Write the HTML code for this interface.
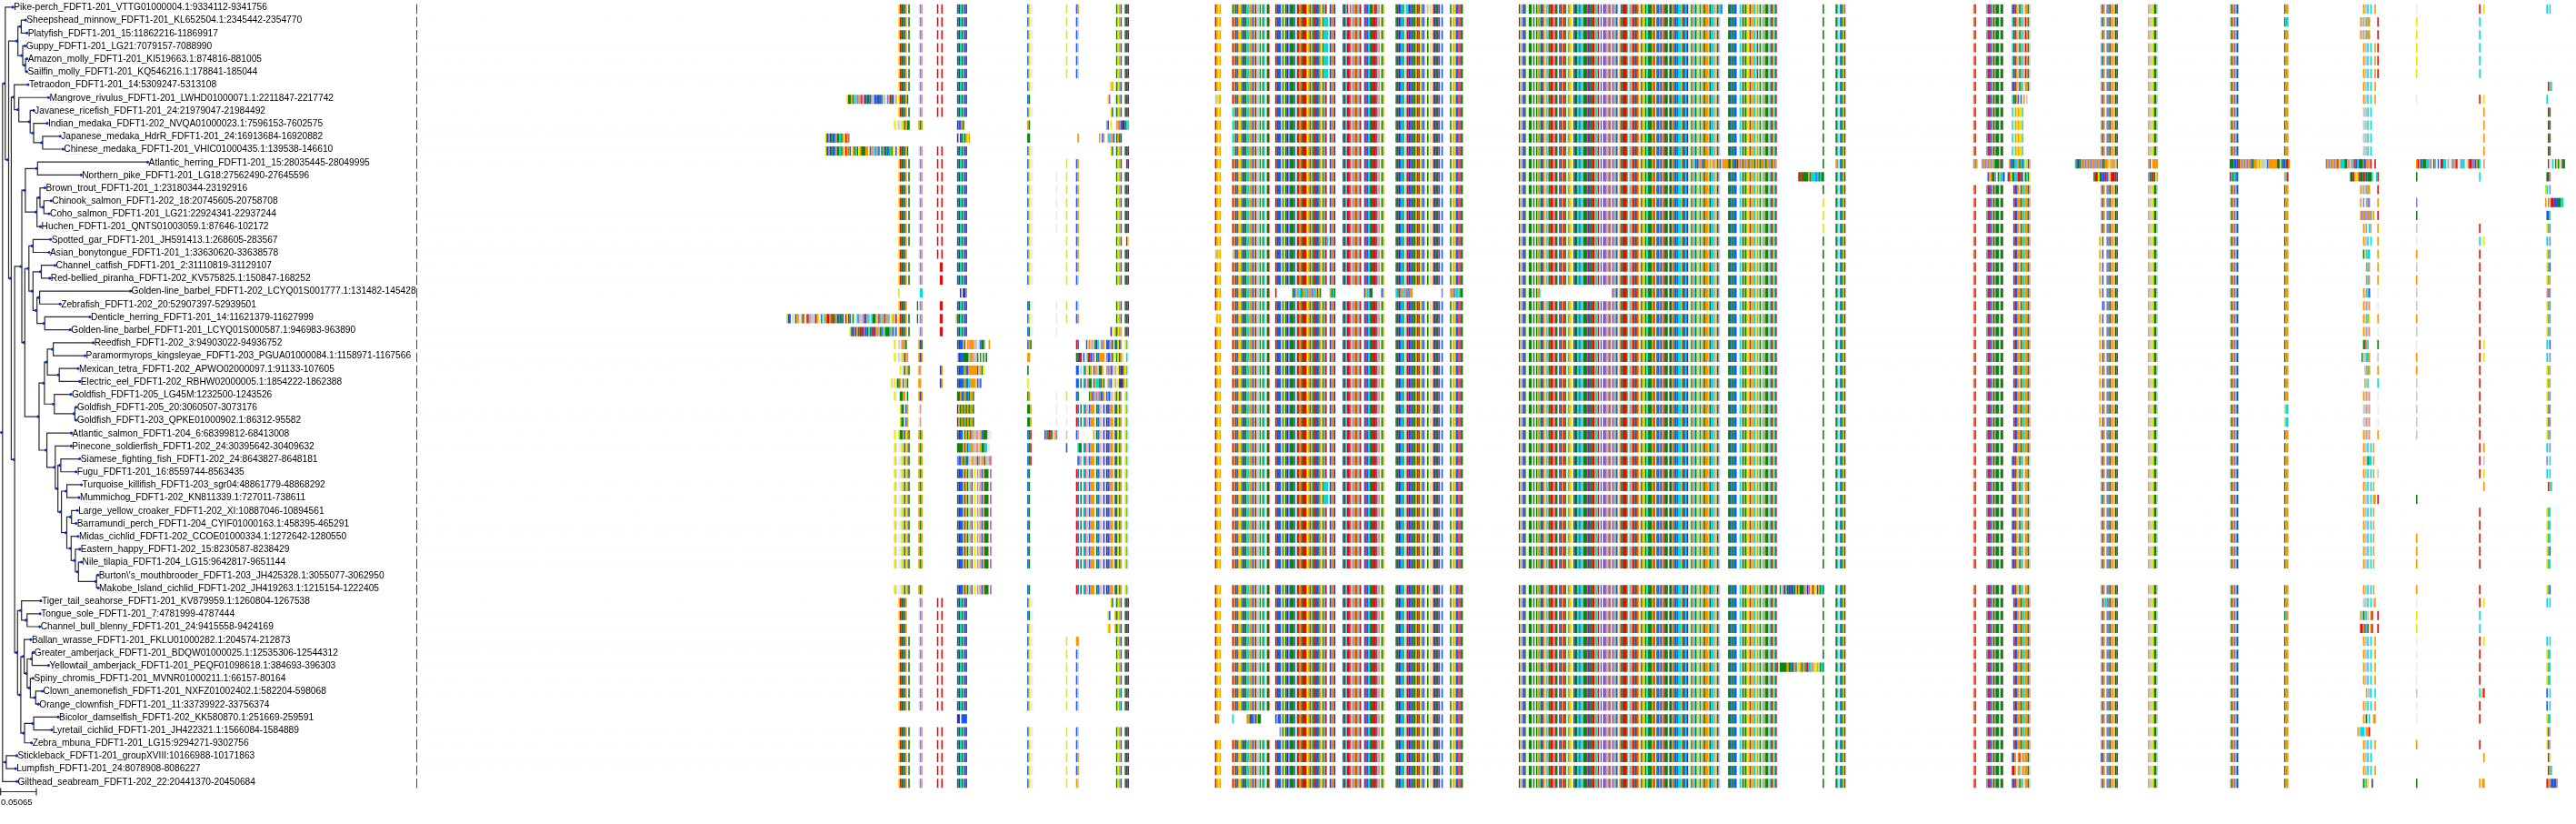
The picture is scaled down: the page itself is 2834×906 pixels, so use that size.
<!DOCTYPE html>
<html><head><meta charset="utf-8"><title>tree</title>
<style>html,body{margin:0;padding:0;background:#fff}body{width:2834px;height:906px;overflow:hidden}svg{display:block}text{font-family:"Liberation Sans",sans-serif;fill:#000}defs path{fill:none;stroke-width:10.15}.Y{stroke:#E6E600}.R{stroke:#E60A0A}.G{stroke:#0F820F}.B{stroke:#145AFF}.O{stroke:#FA9600}.C{stroke:#00DCDC}.N{stroke:#3232AA}.L{stroke:#8282D2}.S{stroke:#DC9682}.A{stroke:#C8C8C8}.W{stroke:#EBEBEB}.P{stroke:#B45AB4}.t{stroke:#2b2b2b;stroke-width:1.2;fill:none;stroke-linecap:butt}.d{fill:#0030c1}.ds{stroke:#4a4a4a;stroke-width:1.05}.fg{stroke:#e2e2e2;stroke-width:.8}.gp{stroke:#fafafa;stroke-width:.9;stroke-dasharray:1.1 1.6}</style></head><body>
<svg style="will-change:transform" width="2834" height="906" viewBox="0 0 2834 906">
<rect width="2834" height="906" fill="#fff"/>
<defs><g id="s0"><path class="Y" d="M988.21 0h1.58"/><path class="R" d="M989.79 0h1.58M1030.78 0h1.58M1035.51 0h1.58"/><path class="G" d="M991.36 0h3.15M999.25 0h1.58"/><path class="B" d="M994.52 0h1.58"/><path class="O" d="M996.09 0h1.58"/><path class="W" d="M1010.28 0h1.58"/><path class="L" d="M1011.86 0h1.58"/><path class="S" d="M1013.44 0h1.58"/></g><g id="s1"><path class="G" d="M1052.85 0h1.58M1057.58 0h1.58"/><path class="N" d="M1054.43 0h1.58M1062.31 0h1.58"/><path class="C" d="M1056.01 0h1.58"/><path class="L" d="M1059.16 0h1.58"/><path class="B" d="M1060.74 0h1.58"/></g><g id="s2"><path class="B" d="M1130.11 0h1.58"/><path class="Y" d="M1131.69 0h1.58M1172.68 0h1.58"/><path class="W" d="M1133.27 0h3.15"/></g><g id="s3"><path class="B" d="M1183.72 0h1.58M1232.6 0h1.58"/><path class="O" d="M1185.3 0h1.58"/><path class="G" d="M1227.87 0h1.58M1237.33 0h1.58"/><path class="Y" d="M1229.45 0h1.58"/><path class="S" d="M1231.02 0h1.58"/><path class="R" d="M1238.91 0h1.58"/></g><g id="s4"><path class="N" d="M1240.48 0h1.58"/></g><g id="s5"><path class="R" d="M1336.66 0h1.58"/><path class="O" d="M1338.24 0h1.58M1341.39 0h1.58M1357.16 0h1.58M1361.89 0h1.58"/><path class="Y" d="M1339.81 0h1.58M1363.46 0h1.58"/><path class="G" d="M1355.58 0h1.58M1358.73 0h1.58"/><path class="B" d="M1360.31 0h1.58"/><path class="L" d="M1365.04 0h1.58"/></g><g id="s6"><path class="G" d="M1366.62 0h1.58M1369.77 0h1.58M1385.54 0h1.58M1388.69 0h1.58M1393.42 0h1.58M1404.46 0h1.58M1410.77 0h1.58M1413.92 0h1.58M1418.65 0h4.73M1426.53 0h1.58"/><path class="N" d="M1368.19 0h1.58M1380.81 0h1.58M1415.5 0h1.58"/><path class="C" d="M1371.35 0h3.15M1390.27 0h1.58"/><path class="O" d="M1374.5 0h3.15M1379.23 0h1.58"/><path class="B" d="M1377.65 0h1.58M1406.04 0h3.15M1423.38 0h1.58"/><path class="A" d="M1382.38 0h3.15M1409.19 0h1.58"/><path class="W" d="M1391.85 0h1.58M1424.96 0h1.58"/><path class="R" d="M1395 0h1.58M1402.88 0h1.58M1428.11 0h1.58"/><path class="Y" d="M1412.34 0h1.58"/><path class="L" d="M1417.07 0h1.58"/></g><g id="s7"><path class="O" d="M1429.69 0h1.58M1439.15 0h1.58M1465.95 0h1.58M1489.6 0h1.58"/><path class="G" d="M1431.26 0h1.58M1440.72 0h1.58M1443.88 0h1.58M1450.18 0h1.58M1454.91 0h1.58M1476.99 0h1.58"/><path class="R" d="M1432.84 0h4.73M1445.45 0h1.58M1458.07 0h1.58M1481.72 0h1.58M1491.18 0h1.58"/><path class="Y" d="M1437.57 0h1.58M1453.34 0h1.58M1486.45 0h1.58"/><path class="S" d="M1442.3 0h1.58M1451.76 0h1.58"/><path class="B" d="M1447.03 0h3.15"/><path class="C" d="M1456.49 0h1.58M1480.14 0h1.58"/><path class="N" d="M1462.8 0h1.58M1467.53 0h1.58M1478.56 0h1.58"/><path class="L" d="M1464.37 0h1.58M1488.02 0h1.58"/><path class="W" d="M1483.29 0h1.58"/><path class="P" d="M1484.87 0h1.58"/></g><g id="s8"><path class="O" d="M1492.75 0h1.58M1510.1 0h1.58M1516.4 0h1.58M1521.13 0h1.58"/><path class="C" d="M1494.33 0h1.58M1505.37 0h1.58M1541.63 0h1.58M1546.36 0h3.15"/><path class="R" d="M1495.91 0h1.58M1502.21 0h1.58M1511.67 0h1.58M1536.9 0h1.58M1552.67 0h1.58"/><path class="B" d="M1500.64 0h1.58M1503.79 0h1.58M1540.06 0h1.58M1551.09 0h1.58"/><path class="G" d="M1506.94 0h3.15M1519.56 0h1.58M1535.32 0h1.58M1543.21 0h1.58M1554.25 0h1.58"/><path class="N" d="M1513.25 0h1.58M1538.48 0h1.58M1549.52 0h1.58"/><path class="S" d="M1514.83 0h1.58"/><path class="W" d="M1544.79 0h1.58"/></g><g id="s9"><path class="G" d="M1555.82 0h1.58M1560.55 0h1.58M1579.47 0h1.58M1595.24 0h1.58M1607.85 0h1.58"/><path class="O" d="M1557.4 0h1.58M1598.39 0h1.58"/><path class="R" d="M1558.98 0h1.58M1576.32 0h1.58M1581.05 0h1.58M1603.12 0h1.58M1606.28 0h1.58"/><path class="Y" d="M1562.13 0h1.58M1566.86 0h1.58M1573.17 0h1.58M1599.97 0h1.58"/><path class="L" d="M1563.71 0h1.58"/><path class="B" d="M1565.28 0h1.58M1582.63 0h1.58M1585.78 0h1.58M1601.55 0h1.58"/><path class="W" d="M1568.44 0h1.58M1571.59 0h1.58M1574.74 0h1.58"/><path class="A" d="M1570.01 0h1.58"/><path class="N" d="M1577.9 0h1.58"/><path class="P" d="M1604.7 0h1.58"/></g><g id="s10"><path class="N" d="M1670.92 0h1.58M1675.65 0h1.58"/><path class="Y" d="M1672.5 0h1.58"/><path class="L" d="M1674.07 0h1.58"/><path class="G" d="M1677.23 0h1.58"/><path class="W" d="M1678.8 0h3.15"/></g><g id="s11"><path class="G" d="M1681.96 0h3.15M1686.69 0h1.58M1689.84 0h1.58M1694.57 0h1.58M1704.03 0h1.58M1711.92 0h1.58M1721.38 0h1.58M1730.84 0h1.58M1733.99 0h1.58M1741.87 0h3.15"/><path class="O" d="M1691.42 0h1.58M1697.72 0h1.58M1700.88 0h1.58M1718.22 0h1.58M1726.11 0h1.58M1738.72 0h1.58"/><path class="C" d="M1692.99 0h1.58M1702.46 0h1.58M1724.53 0h1.58M1735.57 0h1.58M1740.3 0h1.58"/><path class="N" d="M1696.15 0h1.58M1732.41 0h1.58"/><path class="A" d="M1699.3 0h1.58"/><path class="R" d="M1705.61 0h3.15M1710.34 0h1.58M1716.65 0h1.58M1719.8 0h1.58"/><path class="S" d="M1708.76 0h1.58"/><path class="B" d="M1715.07 0h1.58M1737.14 0h1.58"/><path class="W" d="M1722.95 0h1.58"/><path class="Y" d="M1727.68 0h1.58"/></g><g id="s12"><path class="B" d="M1745.03 0h1.58M1760.79 0h1.58M1782.87 0h1.58M1797.06 0h1.58"/><path class="R" d="M1746.6 0h1.58M1751.33 0h3.15M1757.64 0h1.58M1770.25 0h1.58M1786.02 0h3.15M1795.48 0h1.58M1800.21 0h1.58"/><path class="N" d="M1748.18 0h1.58M1763.95 0h1.58M1778.14 0h1.58"/><path class="G" d="M1749.76 0h1.58M1784.44 0h1.58M1789.17 0h1.58M1798.63 0h1.58M1804.94 0h1.58"/><path class="O" d="M1754.49 0h1.58M1774.98 0h1.58M1801.79 0h1.58M1806.52 0h1.58"/><path class="C" d="M1756.06 0h1.58M1768.68 0h1.58M1776.56 0h1.58M1792.33 0h1.58"/><path class="W" d="M1762.37 0h1.58M1771.83 0h1.58M1779.71 0h1.58M1790.75 0h1.58M1803.36 0h1.58"/><path class="P" d="M1765.52 0h1.58M1773.41 0h1.58"/><path class="S" d="M1767.1 0h1.58M1793.9 0h1.58"/></g><g id="s13"><path class="Y" d="M1808.09 0h1.58M1856.97 0h1.58M1866.43 0h1.58"/><path class="G" d="M1809.67 0h1.58M1812.82 0h4.73M1822.28 0h1.58M1827.01 0h1.58M1831.74 0h3.15M1838.05 0h1.58M1842.78 0h1.58M1850.66 0h1.58M1860.13 0h1.58M1864.86 0h1.58M1869.59 0h1.58"/><path class="C" d="M1811.25 0h1.58M1845.93 0h3.15M1853.82 0h1.58M1863.28 0h1.58"/><path class="O" d="M1817.55 0h1.58M1839.63 0h1.58M1849.09 0h1.58"/><path class="R" d="M1819.13 0h1.58M1830.17 0h1.58"/><path class="B" d="M1823.86 0h1.58M1841.2 0h1.58M1844.36 0h1.58"/><path class="L" d="M1825.44 0h1.58"/><path class="S" d="M1828.59 0h1.58M1861.7 0h1.58"/><path class="W" d="M1834.9 0h1.58M1858.55 0h1.58"/><path class="N" d="M1836.47 0h1.58M1852.24 0h1.58M1855.39 0h1.58"/><path class="A" d="M1868.01 0h1.58"/></g><g id="s14"><path class="A" d="M1871.16 0h1.58M1915.31 0h1.58M1926.35 0h1.58"/><path class="O" d="M1872.74 0h1.58M1875.89 0h3.15M1918.46 0h1.58M1927.92 0h1.58M1932.65 0h1.58"/><path class="G" d="M1874.32 0h1.58M1888.51 0h1.58M1901.12 0h3.15M1905.85 0h1.58M1916.89 0h1.58M1920.04 0h1.58"/><path class="Y" d="M1879.05 0h1.58M1886.93 0h1.58M1921.62 0h3.15M1931.08 0h1.58"/><path class="N" d="M1880.62 0h1.58"/><path class="C" d="M1882.2 0h3.15M1891.66 0h1.58M1913.73 0h1.58M1929.5 0h1.58"/><path class="S" d="M1885.35 0h1.58"/><path class="L" d="M1890.08 0h1.58"/><path class="B" d="M1893.24 0h1.58M1904.27 0h1.58M1907.43 0h3.15"/><path class="R" d="M1924.77 0h1.58"/></g><g id="s15"><path class="A" d="M1934.23 0h1.58M1945.27 0h1.58"/><path class="G" d="M1935.81 0h1.58M1942.11 0h3.15"/><path class="C" d="M1938.96 0h1.58M1946.84 0h1.58M1951.57 0h1.58"/><path class="O" d="M1940.54 0h1.58M1950 0h1.58"/><path class="N" d="M1948.42 0h1.58"/><path class="R" d="M1953.15 0h1.58"/></g><g id="s16"><path class="G" d="M2005.18 0h1.58M2019.37 0h1.58M2025.68 0h1.58"/><path class="C" d="M2020.95 0h1.58"/><path class="B" d="M2024.1 0h1.58"/><path class="O" d="M2027.26 0h1.58"/><path class="L" d="M2028.83 0h1.58"/></g><g id="s17"><path class="O" d="M2170.74 0h1.58M2184.93 0h1.58"/><path class="R" d="M2172.31 0h1.58"/><path class="W" d="M2173.89 0h1.58"/></g><g id="s18"><path class="B" d="M2186.5 0h1.58M2189.66 0h1.58M2213.31 0h1.58M2216.46 0h1.58"/><path class="R" d="M2188.08 0h1.58M2214.88 0h1.58"/><path class="O" d="M2191.23 0h1.58M2218.04 0h1.58M2222.77 0h1.58M2227.5 0h3.15"/><path class="G" d="M2192.81 0h1.58M2195.96 0h3.15M2200.69 0h3.15M2221.19 0h1.58M2230.65 0h1.58"/><path class="L" d="M2194.39 0h1.58"/><path class="A" d="M2199.12 0h1.58M2219.61 0h1.58M2232.23 0h1.58"/><path class="C" d="M2224.34 0h1.58"/></g><g id="s19"><path class="O" d="M2311.06 0h1.58"/></g><g id="s20"><path class="B" d="M2312.64 0h1.58"/><path class="O" d="M2314.21 0h1.58M2323.67 0h1.58M2363.09 0h1.58"/><path class="L" d="M2317.37 0h3.15"/><path class="G" d="M2320.52 0h1.58M2328.4 0h1.58M2369.4 0h3.15"/><path class="S" d="M2322.1 0h1.58"/><path class="Y" d="M2325.25 0h1.58M2367.82 0h1.58"/><path class="N" d="M2326.83 0h1.58"/><path class="A" d="M2364.67 0h3.15M2372.55 0h1.58"/></g><g id="s21"><path class="A" d="M2452.96 0h1.58"/><path class="G" d="M2454.54 0h1.58"/><path class="O" d="M2456.12 0h1.58"/><path class="P" d="M2457.69 0h1.58"/><path class="C" d="M2459.27 0h1.58"/><path class="N" d="M2460.85 0h1.58"/></g><g id="s22"><path class="G" d="M2512.88 0h1.58"/><path class="O" d="M2514.46 0h3.15"/></g><g id="s23"><path class="O" d="M2599.6 0h1.58M2612.21 0h1.58"/><path class="A" d="M2601.17 0h3.15"/><path class="C" d="M2604.33 0h1.58M2607.48 0h1.58"/><path class="W" d="M2605.9 0h1.58M2609.06 0h1.58"/></g><g id="s24"><path class="W" d="M2657.94 0h1.58"/></g><g id="s25"><path class="R" d="M2727.31 0h1.58"/><path class="Y" d="M2732.04 0h1.58"/></g><g id="s26"><path class="C" d="M2801.41 0h1.58M2804.57 0h1.58"/><path class="W" d="M2802.99 0h1.58"/></g><g id="s27"><path class="B" d="M1183.72 0h1.58M1232.6 0h1.58"/><path class="A" d="M1185.3 0h1.58"/><path class="G" d="M1227.87 0h1.58M1237.33 0h1.58"/><path class="Y" d="M1229.45 0h1.58"/><path class="S" d="M1231.02 0h1.58"/><path class="R" d="M1238.91 0h1.58"/></g><g id="s28"><path class="R" d="M1336.66 0h1.58M1355.58 0h1.58"/><path class="O" d="M1338.24 0h1.58M1341.39 0h1.58M1357.16 0h1.58M1361.89 0h1.58"/><path class="Y" d="M1339.81 0h1.58M1363.46 0h1.58"/><path class="G" d="M1358.73 0h1.58"/><path class="B" d="M1360.31 0h1.58"/><path class="L" d="M1365.04 0h1.58"/></g><g id="s29"><path class="O" d="M1429.69 0h1.58M1439.15 0h1.58M1465.95 0h1.58M1489.6 0h1.58"/><path class="G" d="M1431.26 0h1.58M1440.72 0h1.58M1443.88 0h1.58M1450.18 0h1.58M1454.91 0h1.58M1476.99 0h1.58"/><path class="R" d="M1432.84 0h4.73M1445.45 0h1.58M1481.72 0h3.15M1491.18 0h1.58"/><path class="Y" d="M1437.57 0h1.58M1453.34 0h1.58M1486.45 0h1.58"/><path class="S" d="M1442.3 0h1.58M1451.76 0h1.58"/><path class="B" d="M1447.03 0h3.15"/><path class="C" d="M1456.49 0h4.73M1480.14 0h1.58"/><path class="N" d="M1462.8 0h1.58M1467.53 0h1.58M1478.56 0h1.58"/><path class="L" d="M1464.37 0h1.58M1488.02 0h1.58"/><path class="P" d="M1484.87 0h1.58"/></g><g id="s30"><path class="O" d="M1492.75 0h1.58M1516.4 0h1.58M1521.13 0h1.58"/><path class="C" d="M1494.33 0h1.58M1505.37 0h1.58M1541.63 0h1.58M1546.36 0h1.58"/><path class="R" d="M1495.91 0h1.58M1502.21 0h1.58M1510.1 0h3.15M1536.9 0h1.58M1547.94 0h1.58M1552.67 0h1.58"/><path class="B" d="M1500.64 0h1.58M1503.79 0h1.58M1540.06 0h1.58M1551.09 0h1.58"/><path class="G" d="M1506.94 0h3.15M1519.56 0h1.58M1535.32 0h1.58M1543.21 0h1.58M1554.25 0h1.58"/><path class="N" d="M1513.25 0h1.58M1538.48 0h1.58M1549.52 0h1.58"/><path class="S" d="M1514.83 0h1.58"/><path class="W" d="M1544.79 0h1.58"/></g><g id="s31"><path class="G" d="M1555.82 0h1.58M1560.55 0h1.58M1570.01 0h1.58M1579.47 0h1.58M1595.24 0h1.58M1607.85 0h1.58"/><path class="O" d="M1557.4 0h1.58M1598.39 0h1.58"/><path class="R" d="M1558.98 0h1.58M1576.32 0h1.58M1581.05 0h1.58M1603.12 0h1.58M1606.28 0h1.58"/><path class="Y" d="M1562.13 0h1.58M1566.86 0h1.58M1573.17 0h1.58M1599.97 0h1.58"/><path class="L" d="M1563.71 0h1.58"/><path class="B" d="M1565.28 0h1.58M1582.63 0h1.58M1585.78 0h1.58M1601.55 0h1.58"/><path class="W" d="M1574.74 0h1.58"/><path class="N" d="M1577.9 0h1.58"/><path class="P" d="M1604.7 0h1.58"/></g><g id="s32"><path class="B" d="M1745.03 0h1.58M1760.79 0h1.58M1782.87 0h1.58M1797.06 0h1.58"/><path class="R" d="M1746.6 0h1.58M1751.33 0h3.15M1757.64 0h1.58M1770.25 0h1.58M1786.02 0h3.15M1795.48 0h1.58M1800.21 0h1.58"/><path class="N" d="M1748.18 0h1.58M1763.95 0h1.58M1778.14 0h1.58"/><path class="G" d="M1749.76 0h1.58M1784.44 0h1.58M1789.17 0h1.58M1798.63 0h1.58M1804.94 0h1.58"/><path class="O" d="M1754.49 0h1.58M1774.98 0h1.58M1781.29 0h1.58M1801.79 0h1.58M1806.52 0h1.58"/><path class="C" d="M1756.06 0h1.58M1768.68 0h1.58M1776.56 0h1.58M1792.33 0h1.58"/><path class="W" d="M1762.37 0h1.58M1771.83 0h1.58M1779.71 0h1.58M1790.75 0h1.58M1803.36 0h1.58"/><path class="P" d="M1765.52 0h1.58M1773.41 0h1.58"/><path class="S" d="M1767.1 0h1.58M1793.9 0h1.58"/></g><g id="s33"><path class="A" d="M1871.16 0h1.58M1915.31 0h1.58M1926.35 0h1.58"/><path class="O" d="M1872.74 0h1.58M1875.89 0h3.15M1918.46 0h1.58M1927.92 0h1.58M1932.65 0h1.58"/><path class="G" d="M1874.32 0h1.58M1888.51 0h1.58M1901.12 0h3.15M1905.85 0h1.58M1916.89 0h1.58M1920.04 0h1.58"/><path class="Y" d="M1879.05 0h1.58M1886.93 0h1.58M1921.62 0h3.15M1931.08 0h1.58"/><path class="N" d="M1880.62 0h1.58"/><path class="C" d="M1882.2 0h3.15M1913.73 0h1.58M1929.5 0h1.58"/><path class="S" d="M1885.35 0h1.58"/><path class="L" d="M1890.08 0h1.58"/><path class="W" d="M1891.66 0h1.58"/><path class="B" d="M1904.27 0h1.58M1907.43 0h3.15"/><path class="R" d="M1924.77 0h1.58"/></g><g id="s34"><path class="G" d="M2005.18 0h1.58M2019.37 0h1.58M2025.68 0h1.58M2028.83 0h1.58"/><path class="C" d="M2020.95 0h1.58"/><path class="B" d="M2024.1 0h1.58"/><path class="O" d="M2027.26 0h1.58"/></g><g id="s35"><path class="B" d="M2186.5 0h1.58M2189.66 0h1.58M2216.46 0h1.58"/><path class="R" d="M2188.08 0h1.58M2214.88 0h1.58M2227.5 0h1.58"/><path class="O" d="M2191.23 0h1.58M2218.04 0h1.58M2222.77 0h1.58M2229.07 0h1.58"/><path class="G" d="M2192.81 0h1.58M2195.96 0h3.15M2200.69 0h3.15M2221.19 0h1.58M2230.65 0h1.58"/><path class="L" d="M2194.39 0h1.58"/><path class="A" d="M2199.12 0h1.58M2219.61 0h1.58M2225.92 0h1.58M2232.23 0h1.58"/><path class="C" d="M2213.31 0h1.58M2224.34 0h1.58"/></g><g id="s36"><path class="C" d="M2311.06 0h1.58"/></g><g id="s37"><path class="G" d="M2512.88 0h1.58"/><path class="C" d="M2514.46 0h3.15"/></g><g id="s38"><path class="O" d="M2596.44 0h1.58M2604.33 0h3.15"/><path class="A" d="M2598.02 0h1.58M2601.17 0h1.58"/><path class="S" d="M2599.6 0h1.58"/><path class="C" d="M2602.75 0h1.58"/><path class="R" d="M2615.36 0h1.58"/></g><g id="s39"><path class="Y" d="M2657.94 0h1.58"/></g><g id="s40"><path class="C" d="M2727.31 0h1.58"/></g><g id="s41"><path class="A" d="M1871.16 0h1.58M1915.31 0h1.58M1926.35 0h1.58"/><path class="O" d="M1872.74 0h1.58M1875.89 0h3.15M1918.46 0h1.58M1927.92 0h1.58"/><path class="G" d="M1874.32 0h1.58M1888.51 0h1.58M1901.12 0h3.15M1905.85 0h1.58M1916.89 0h1.58M1920.04 0h1.58"/><path class="Y" d="M1879.05 0h1.58M1886.93 0h1.58M1921.62 0h3.15M1931.08 0h1.58"/><path class="N" d="M1880.62 0h1.58"/><path class="C" d="M1882.2 0h3.15M1913.73 0h1.58M1929.5 0h1.58"/><path class="S" d="M1885.35 0h1.58"/><path class="L" d="M1890.08 0h1.58"/><path class="W" d="M1891.66 0h1.58"/><path class="B" d="M1904.27 0h1.58M1907.43 0h3.15M1932.65 0h1.58"/><path class="R" d="M1924.77 0h1.58"/></g><g id="s42"><path class="Y" d="M2311.06 0h1.58"/></g><g id="s43"><path class="O" d="M2599.6 0h1.58M2612.21 0h1.58"/><path class="A" d="M2601.17 0h3.15"/><path class="C" d="M2604.33 0h1.58M2607.48 0h1.58"/><path class="W" d="M2605.9 0h1.58M2609.06 0h1.58"/><path class="R" d="M2615.36 0h1.58"/></g><g id="s44"><path class="B" d="M1130.11 0h1.58"/><path class="Y" d="M1131.69 0h1.58"/><path class="W" d="M1133.27 0h3.15"/></g><g id="s45"><path class="W" d="M1219.98 0h1.58M1226.29 0h1.58"/><path class="Y" d="M1221.56 0h1.58M1229.45 0h1.58"/><path class="O" d="M1223.14 0h1.58"/><path class="G" d="M1227.87 0h1.58M1237.33 0h1.58"/><path class="S" d="M1231.02 0h1.58"/><path class="B" d="M1232.6 0h1.58"/><path class="R" d="M1238.91 0h1.58"/></g><g id="s46"><path class="O" d="M1429.69 0h1.58M1439.15 0h1.58M1465.95 0h1.58M1489.6 0h1.58"/><path class="G" d="M1431.26 0h1.58M1440.72 0h1.58M1443.88 0h1.58M1450.18 0h1.58M1454.91 0h1.58M1476.99 0h1.58"/><path class="R" d="M1432.84 0h4.73M1445.45 0h1.58M1458.07 0h1.58M1481.72 0h3.15M1491.18 0h1.58"/><path class="Y" d="M1437.57 0h1.58M1453.34 0h1.58M1486.45 0h1.58"/><path class="S" d="M1442.3 0h1.58M1451.76 0h1.58"/><path class="B" d="M1447.03 0h3.15"/><path class="C" d="M1456.49 0h1.58M1480.14 0h1.58"/><path class="N" d="M1462.8 0h1.58M1467.53 0h1.58M1478.56 0h1.58"/><path class="L" d="M1464.37 0h1.58M1488.02 0h1.58"/><path class="P" d="M1484.87 0h1.58"/></g><g id="s47"><path class="R" d="M2802.99 0h1.58"/><path class="O" d="M2804.57 0h1.58"/><path class="C" d="M2806.15 0h1.58"/></g><g id="s48"><path class="Y" d="M931.45 0h1.58"/><path class="G" d="M933.03 0h3.15M937.76 0h1.58M953.52 0h3.15M964.56 0h1.58M969.29 0h1.58M980.33 0h1.58"/><path class="O" d="M936.18 0h1.58M985.06 0h1.58"/><path class="C" d="M939.33 0h1.58"/><path class="S" d="M940.91 0h1.58M944.06 0h3.15M958.25 0h1.58M977.17 0h1.58"/><path class="L" d="M942.49 0h1.58M975.6 0h1.58"/><path class="R" d="M947.22 0h1.58M950.37 0h1.58M978.75 0h1.58"/><path class="B" d="M951.95 0h1.58M956.68 0h1.58M961.41 0h3.15M967.71 0h1.58M981.9 0h1.58"/><path class="A" d="M959.83 0h1.58M970.87 0h3.15"/><path class="N" d="M966.14 0h1.58"/><path class="W" d="M974.02 0h1.58"/></g><g id="s49"><path class="Y" d="M988.21 0h1.58"/><path class="R" d="M989.79 0h1.58M1030.78 0h1.58M1035.51 0h1.58"/><path class="G" d="M991.36 0h3.15M997.67 0h1.58"/><path class="B" d="M994.52 0h1.58"/><path class="O" d="M996.09 0h1.58"/><path class="W" d="M1010.28 0h1.58"/><path class="L" d="M1011.86 0h1.58"/><path class="S" d="M1013.44 0h1.58"/></g><g id="s50"><path class="B" d="M1130.11 0h1.58"/><path class="G" d="M1131.69 0h1.58"/><path class="W" d="M1133.27 0h1.58"/></g><g id="s51"><path class="Y" d="M1218.41 0h1.58M1229.45 0h1.58"/><path class="P" d="M1219.98 0h1.58"/><path class="W" d="M1226.29 0h1.58"/><path class="G" d="M1227.87 0h1.58M1237.33 0h1.58"/><path class="S" d="M1231.02 0h1.58"/><path class="B" d="M1232.6 0h1.58"/><path class="R" d="M1238.91 0h1.58"/></g><g id="s52"><path class="A" d="M1336.66 0h3.15"/><path class="Y" d="M1339.81 0h1.58M1363.46 0h1.58"/><path class="O" d="M1341.39 0h1.58M1357.16 0h1.58M1361.89 0h1.58"/><path class="R" d="M1355.58 0h1.58"/><path class="G" d="M1358.73 0h1.58"/><path class="B" d="M1360.31 0h1.58"/><path class="L" d="M1365.04 0h1.58"/></g><g id="s53"><path class="B" d="M2186.5 0h1.58M2189.66 0h1.58M2219.61 0h1.58M2222.77 0h1.58"/><path class="R" d="M2188.08 0h1.58M2214.88 0h1.58"/><path class="O" d="M2191.23 0h1.58M2218.04 0h1.58M2225.92 0h1.58"/><path class="G" d="M2192.81 0h1.58M2195.96 0h3.15M2200.69 0h3.15M2216.46 0h1.58"/><path class="L" d="M2194.39 0h1.58"/><path class="A" d="M2199.12 0h1.58M2229.07 0h1.58"/><path class="C" d="M2213.31 0h1.58"/></g><g id="s54"><path class="C" d="M2801.41 0h1.58"/></g><g id="s55"><path class="Y" d="M1221.56 0h1.58M1229.45 0h1.58"/><path class="B" d="M1223.14 0h1.58M1232.6 0h1.58"/><path class="W" d="M1226.29 0h1.58"/><path class="G" d="M1227.87 0h1.58M1237.33 0h1.58"/><path class="S" d="M1231.02 0h1.58"/><path class="R" d="M1238.91 0h1.58"/></g><g id="s56"><path class="R" d="M1336.66 0h1.58"/><path class="O" d="M1338.24 0h1.58M1341.39 0h1.58M1357.16 0h1.58M1361.89 0h1.58"/><path class="Y" d="M1339.81 0h1.58M1363.46 0h1.58"/><path class="C" d="M1355.58 0h1.58"/><path class="G" d="M1358.73 0h1.58"/><path class="B" d="M1360.31 0h1.58"/><path class="L" d="M1365.04 0h1.58"/></g><g id="s57"><path class="B" d="M2186.5 0h1.58M2189.66 0h1.58"/><path class="R" d="M2188.08 0h1.58"/><path class="O" d="M2191.23 0h1.58M2216.46 0h1.58M2219.61 0h1.58"/><path class="G" d="M2192.81 0h1.58M2195.96 0h3.15M2200.69 0h3.15"/><path class="L" d="M2194.39 0h1.58"/><path class="A" d="M2199.12 0h1.58"/><path class="C" d="M2213.31 0h1.58M2224.34 0h1.58"/><path class="W" d="M2214.88 0h1.58"/><path class="Y" d="M2218.04 0h1.58M2221.19 0h3.15"/></g><g id="s58"><path class="A" d="M2599.6 0h4.73"/><path class="C" d="M2604.33 0h1.58M2607.48 0h1.58"/><path class="W" d="M2605.9 0h1.58"/></g><g id="s59"><path class="O" d="M2732.04 0h1.58"/></g><g id="s60"><path class="R" d="M2802.99 0h1.58"/><path class="G" d="M2804.57 0h1.58"/></g><g id="s61"><path class="Y" d="M983.48 0h1.58"/><path class="W" d="M985.06 0h3.15"/></g><g id="s62"><path class="A" d="M988.21 0h1.58"/><path class="W" d="M989.79 0h1.58"/><path class="Y" d="M991.36 0h3.15"/><path class="G" d="M994.52 0h1.58M997.67 0h3.15M1011.86 0h1.58"/><path class="O" d="M996.09 0h1.58M1010.28 0h1.58M1013.44 0h1.58"/></g><g id="s63"><path class="N" d="M1052.85 0h1.58"/><path class="B" d="M1054.43 0h3.15"/><path class="O" d="M1057.58 0h1.58"/><path class="G" d="M1059.16 0h1.58"/></g><g id="s64"><path class="O" d="M1130.11 0h1.58"/><path class="G" d="M1131.69 0h1.58"/></g><g id="s65"><path class="S" d="M1216.83 0h1.58M1227.87 0h1.58"/><path class="B" d="M1218.41 0h1.58M1232.6 0h1.58"/><path class="Y" d="M1221.56 0h1.58"/><path class="O" d="M1229.45 0h1.58"/><path class="L" d="M1231.02 0h1.58"/><path class="N" d="M1234.18 0h3.15"/><path class="G" d="M1237.33 0h1.58"/><path class="C" d="M1238.91 0h1.58"/></g><g id="s66"><path class="C" d="M1240.48 0h1.58"/></g><g id="s67"><path class="Y" d="M907.8 0h1.58"/><path class="N" d="M909.38 0h1.58M912.53 0h1.58"/><path class="L" d="M910.95 0h1.58"/><path class="G" d="M914.11 0h1.58M920.41 0h3.15"/><path class="B" d="M915.68 0h3.15"/><path class="O" d="M918.84 0h1.58"/><path class="C" d="M923.57 0h1.58"/></g><g id="s68"><path class="G" d="M925.14 0h1.58"/><path class="O" d="M926.72 0h1.58M931.45 0h1.58"/><path class="Y" d="M928.3 0h1.58"/><path class="R" d="M929.87 0h1.58"/><path class="L" d="M933.03 0h1.58"/></g><g id="s69"><path class="N" d="M1052.85 0h1.58M1056.01 0h1.58"/><path class="G" d="M1057.58 0h1.58M1060.74 0h1.58"/><path class="C" d="M1059.16 0h1.58"/><path class="O" d="M1062.31 0h1.58M1065.47 0h1.58"/><path class="Y" d="M1063.89 0h1.58"/></g><g id="s70"><path class="G" d="M1130.11 0h3.15"/></g><g id="s71"><path class="O" d="M1185.3 0h1.58M1208.95 0h1.58M1223.14 0h1.58M1229.45 0h1.58"/><path class="B" d="M1212.1 0h1.58M1224.72 0h1.58M1231.02 0h1.58"/><path class="S" d="M1213.68 0h1.58M1218.41 0h1.58M1221.56 0h1.58"/><path class="C" d="M1219.98 0h1.58"/><path class="G" d="M1227.87 0h1.58M1232.6 0h1.58"/></g><g id="s72"><path class="G" d="M925.14 0h1.58M934.6 0h1.58M939.33 0h1.58M942.49 0h1.58M947.22 0h4.73M969.29 0h1.58M974.02 0h1.58M977.17 0h1.58M980.33 0h1.58"/><path class="O" d="M926.72 0h1.58M931.45 0h1.58M937.76 0h1.58M945.64 0h1.58M951.95 0h3.15M964.56 0h1.58M970.87 0h1.58"/><path class="Y" d="M928.3 0h1.58M944.06 0h1.58M981.9 0h1.58"/><path class="R" d="M929.87 0h1.58"/><path class="L" d="M933.03 0h1.58M962.98 0h1.58"/><path class="C" d="M940.91 0h1.58M961.41 0h1.58M978.75 0h1.58"/><path class="B" d="M956.68 0h1.58M966.14 0h1.58M972.44 0h1.58M975.6 0h1.58M985.06 0h1.58"/><path class="S" d="M958.25 0h3.15"/><path class="W" d="M983.48 0h1.58"/></g><g id="s73"><path class="B" d="M1183.72 0h1.58"/><path class="O" d="M1185.3 0h1.58"/><path class="G" d="M1227.87 0h1.58M1232.6 0h1.58"/><path class="Y" d="M1229.45 0h1.58"/><path class="S" d="M1231.02 0h1.58"/><path class="R" d="M1238.91 0h1.58"/></g><g id="s74"><path class="Y" d="M1808.09 0h1.58M1856.97 0h1.58"/><path class="G" d="M1809.67 0h1.58M1812.82 0h4.73M1822.28 0h1.58M1827.01 0h1.58M1831.74 0h3.15M1838.05 0h1.58M1842.78 0h1.58M1850.66 0h1.58M1860.13 0h1.58M1864.86 0h1.58"/><path class="C" d="M1811.25 0h1.58M1845.93 0h3.15M1853.82 0h1.58M1863.28 0h1.58"/><path class="O" d="M1817.55 0h1.58M1839.63 0h1.58M1849.09 0h1.58M1869.59 0h1.58"/><path class="R" d="M1819.13 0h1.58M1830.17 0h1.58"/><path class="B" d="M1823.86 0h1.58M1841.2 0h1.58M1844.36 0h1.58M1866.43 0h1.58"/><path class="L" d="M1825.44 0h1.58M1868.01 0h1.58"/><path class="S" d="M1828.59 0h1.58M1861.7 0h1.58"/><path class="W" d="M1834.9 0h1.58M1858.55 0h1.58"/><path class="N" d="M1836.47 0h1.58M1852.24 0h1.58M1855.39 0h1.58"/></g><g id="s75"><path class="L" d="M1871.16 0h1.58M1913.73 0h1.58M1920.04 0h1.58M1926.35 0h1.58M1932.65 0h1.58"/><path class="B" d="M1872.74 0h1.58M1891.66 0h1.58M1907.43 0h1.58"/><path class="G" d="M1874.32 0h1.58M1888.51 0h1.58M1901.12 0h3.15M1905.85 0h1.58M1909 0h1.58M1916.89 0h1.58M1923.19 0h1.58M1929.5 0h1.58"/><path class="O" d="M1875.89 0h3.15M1880.62 0h1.58M1890.08 0h1.58M1894.81 0h6.31M1904.27 0h1.58M1912.16 0h1.58M1915.31 0h1.58M1918.46 0h1.58M1921.62 0h1.58M1924.77 0h1.58M1927.92 0h1.58M1931.08 0h1.58"/><path class="A" d="M1879.05 0h1.58M1893.24 0h1.58"/><path class="Y" d="M1882.2 0h1.58M1886.93 0h1.58"/><path class="S" d="M1883.78 0h3.15"/><path class="R" d="M1910.58 0h1.58"/></g><g id="s76"><path class="O" d="M1934.23 0h1.58M1937.38 0h1.58M1940.54 0h1.58M1943.69 0h1.58M1946.84 0h1.58M1950 0h1.58M1953.15 0h1.58"/><path class="G" d="M1935.81 0h1.58M1942.11 0h1.58M1948.42 0h1.58"/><path class="L" d="M1938.96 0h1.58M1945.27 0h1.58M1951.57 0h1.58"/></g><g id="s77"><path class="G" d="M2005.18 0h1.58M2025.68 0h1.58M2028.83 0h1.58"/><path class="O" d="M2019.37 0h1.58M2027.26 0h1.58"/><path class="C" d="M2020.95 0h1.58"/><path class="B" d="M2024.1 0h1.58"/></g><g id="s78"><path class="O" d="M2170.74 0h1.58M2173.89 0h1.58M2181.77 0h1.58M2184.93 0h1.58"/><path class="L" d="M2172.31 0h1.58M2180.2 0h1.58M2183.35 0h1.58"/></g><g id="s79"><path class="L" d="M2186.5 0h1.58M2189.66 0h1.58"/><path class="O" d="M2188.08 0h1.58M2191.23 0h1.58M2199.12 0h1.58M2210.15 0h1.58M2219.61 0h1.58"/><path class="C" d="M2192.81 0h1.58M2216.46 0h3.15M2222.77 0h1.58M2225.92 0h1.58"/><path class="G" d="M2194.39 0h4.73M2202.27 0h1.58M2213.31 0h1.58M2221.19 0h1.58M2230.65 0h1.58"/><path class="N" d="M2200.69 0h1.58"/><path class="B" d="M2211.73 0h1.58M2214.88 0h1.58M2224.34 0h1.58"/><path class="Y" d="M2227.5 0h1.58"/><path class="A" d="M2229.07 0h1.58"/><path class="S" d="M2232.23 0h1.58"/></g><g id="s80"><path class="C" d="M2282.68 0h1.58"/><path class="G" d="M2284.26 0h1.58M2287.41 0h1.58"/><path class="N" d="M2285.83 0h1.58"/><path class="O" d="M2288.99 0h1.58M2292.14 0h1.58M2295.29 0h1.58M2298.45 0h1.58M2301.6 0h1.58M2304.75 0h1.58M2307.91 0h1.58M2311.06 0h1.58"/><path class="L" d="M2290.56 0h1.58M2293.72 0h1.58M2296.87 0h1.58M2300.02 0h1.58M2303.18 0h1.58M2306.33 0h1.58M2309.48 0h1.58"/></g><g id="s81"><path class="B" d="M2312.64 0h1.58M2364.67 0h1.58"/><path class="G" d="M2314.21 0h1.58M2328.4 0h1.58"/><path class="O" d="M2315.79 0h3.15M2322.1 0h1.58M2363.09 0h1.58M2367.82 0h6.31"/><path class="A" d="M2318.94 0h1.58"/><path class="Y" d="M2320.52 0h1.58M2326.83 0h1.58"/><path class="S" d="M2323.67 0h3.15"/></g><g id="s82"><path class="G" d="M2452.96 0h4.73M2460.85 0h1.58M2478.19 0h1.58"/><path class="B" d="M2457.69 0h3.15M2476.61 0h1.58M2493.96 0h1.58"/><path class="R" d="M2462.42 0h1.58"/><path class="O" d="M2464 0h1.58M2467.15 0h1.58M2470.31 0h1.58M2473.46 0h1.58M2479.77 0h3.15M2484.5 0h1.58M2495.54 0h6.31"/><path class="L" d="M2465.58 0h1.58M2468.73 0h1.58M2471.88 0h1.58M2475.04 0h1.58"/><path class="Y" d="M2482.92 0h1.58M2486.07 0h1.58M2490.81 0h1.58"/><path class="A" d="M2487.65 0h3.15M2492.38 0h1.58"/></g><g id="s83"><path class="O" d="M2501.84 0h3.15M2517.61 0h1.58M2560.18 0h1.58M2563.33 0h1.58"/><path class="G" d="M2505 0h3.15M2509.73 0h1.58M2514.46 0h1.58"/><path class="A" d="M2508.15 0h1.58"/><path class="B" d="M2511.3 0h3.15"/><path class="R" d="M2516.03 0h1.58"/><path class="L" d="M2558.6 0h1.58M2561.76 0h1.58"/></g><g id="s84"><path class="L" d="M2564.91 0h1.58M2568.06 0h1.58M2574.37 0h1.58M2588.56 0h1.58M2599.6 0h1.58"/><path class="O" d="M2566.49 0h1.58M2569.64 0h1.58M2602.75 0h3.15"/><path class="R" d="M2571.22 0h1.58M2590.14 0h1.58M2607.48 0h1.58M2612.21 0h1.58"/><path class="Y" d="M2572.79 0h1.58"/><path class="C" d="M2575.95 0h3.15M2586.98 0h1.58M2593.29 0h1.58"/><path class="G" d="M2579.1 0h3.15M2594.87 0h4.73"/><path class="S" d="M2582.25 0h3.15M2605.9 0h1.58"/><path class="A" d="M2585.41 0h1.58"/><path class="B" d="M2591.71 0h1.58"/><path class="N" d="M2601.17 0h1.58"/></g><g id="s85"><path class="O" d="M2657.94 0h1.58"/><path class="R" d="M2659.51 0h1.58M2684.74 0h3.15"/><path class="S" d="M2661.09 0h1.58M2672.13 0h1.58M2678.43 0h1.58"/><path class="G" d="M2662.67 0h1.58M2665.82 0h3.15M2676.86 0h1.58"/><path class="B" d="M2664.24 0h1.58M2681.59 0h1.58"/><path class="C" d="M2668.97 0h3.15M2687.89 0h3.15"/><path class="L" d="M2673.7 0h1.58"/><path class="W" d="M2675.28 0h1.58M2680.01 0h1.58M2683.16 0h1.58"/></g><g id="s86"><path class="W" d="M2691.05 0h1.58M2694.2 0h3.15M2703.66 0h3.15M2711.54 0h3.15"/><path class="S" d="M2692.62 0h1.58M2732.04 0h1.58"/><path class="L" d="M2697.35 0h1.58M2700.51 0h1.58M2706.81 0h1.58M2719.43 0h3.15"/><path class="O" d="M2698.93 0h1.58M2714.7 0h1.58M2724.16 0h1.58"/><path class="R" d="M2702.08 0h1.58M2716.27 0h3.15"/><path class="C" d="M2708.39 0h3.15M2727.31 0h1.58"/><path class="B" d="M2722.58 0h1.58"/><path class="G" d="M2725.73 0h1.58"/></g><g id="s87"><path class="R" d="M2802.99 0h1.58"/><path class="W" d="M2804.57 0h3.15"/><path class="C" d="M2807.72 0h1.58"/><path class="G" d="M2810.88 0h1.58M2814.03 0h1.58"/><path class="Y" d="M2812.45 0h1.58"/></g><g id="s88"><path class="S" d="M2817.18 0h1.58"/><path class="G" d="M2818.76 0h3.15"/></g><g id="s89"><path class="B" d="M1130.11 0h1.58"/><path class="Y" d="M1131.69 0h1.58M1172.68 0h1.58"/><path class="W" d="M1133.27 0h3.15M1161.65 0h1.58"/></g><g id="s90"><path class="A" d="M1934.23 0h1.58M1945.27 0h1.58"/><path class="G" d="M1935.81 0h1.58M1942.11 0h3.15M1979.95 0h1.58M1983.11 0h6.31M1990.99 0h1.58"/><path class="C" d="M1938.96 0h1.58M1946.84 0h1.58M1951.57 0h1.58M1992.57 0h4.73"/><path class="O" d="M1940.54 0h1.58M1950 0h1.58M1989.41 0h1.58"/><path class="N" d="M1948.42 0h1.58"/><path class="R" d="M1953.15 0h1.58M1978.38 0h1.58M1981.53 0h1.58"/></g><g id="s91"><path class="B" d="M1997.3 0h1.58M2024.1 0h1.58"/><path class="C" d="M1998.87 0h1.58M2002.03 0h1.58M2020.95 0h1.58"/><path class="G" d="M2000.45 0h1.58M2003.6 0h3.15M2019.37 0h1.58M2025.68 0h1.58M2028.83 0h1.58"/><path class="O" d="M2027.26 0h1.58"/></g><g id="s92"><path class="B" d="M2186.5 0h1.58M2208.58 0h1.58M2214.88 0h1.58M2224.34 0h1.58"/><path class="S" d="M2188.08 0h1.58M2199.12 0h1.58"/><path class="O" d="M2189.66 0h1.58"/><path class="G" d="M2191.23 0h3.15M2197.54 0h1.58M2213.31 0h1.58M2222.77 0h1.58M2227.5 0h1.58M2230.65 0h1.58"/><path class="L" d="M2194.39 0h1.58"/><path class="W" d="M2195.96 0h1.58"/><path class="C" d="M2200.69 0h3.15M2216.46 0h3.15M2229.07 0h1.58"/><path class="N" d="M2203.85 0h1.58"/><path class="R" d="M2210.15 0h1.58M2219.61 0h3.15"/><path class="Y" d="M2211.73 0h1.58M2232.23 0h1.58"/></g><g id="s93"><path class="G" d="M2303.18 0h1.58M2309.48 0h1.58"/><path class="R" d="M2304.75 0h3.15"/><path class="Y" d="M2307.91 0h1.58"/><path class="N" d="M2311.06 0h1.58"/></g><g id="s94"><path class="B" d="M2312.64 0h3.15M2317.37 0h1.58M2364.67 0h1.58"/><path class="R" d="M2315.79 0h1.58M2322.1 0h4.73M2367.82 0h1.58"/><path class="S" d="M2318.94 0h1.58"/><path class="Y" d="M2320.52 0h1.58M2370.98 0h1.58"/><path class="G" d="M2326.83 0h1.58M2366.25 0h1.58M2369.4 0h1.58"/><path class="N" d="M2328.4 0h1.58"/><path class="L" d="M2363.09 0h1.58"/><path class="O" d="M2372.55 0h1.58"/></g><g id="s95"><path class="R" d="M2452.96 0h1.58"/><path class="L" d="M2454.54 0h1.58"/><path class="G" d="M2456.12 0h1.58M2460.85 0h1.58"/><path class="C" d="M2457.69 0h1.58"/><path class="B" d="M2459.27 0h1.58"/></g><g id="s96"><path class="O" d="M2512.88 0h1.58"/><path class="C" d="M2514.46 0h1.58"/><path class="R" d="M2516.03 0h1.58"/></g><g id="s97"><path class="G" d="M2585.41 0h1.58M2594.87 0h1.58M2598.02 0h1.58M2601.17 0h1.58M2604.33 0h4.73"/><path class="N" d="M2586.98 0h1.58M2596.44 0h1.58"/><path class="R" d="M2588.56 0h1.58M2599.6 0h1.58M2615.36 0h1.58"/><path class="O" d="M2590.14 0h1.58M2593.29 0h1.58"/><path class="Y" d="M2591.71 0h1.58"/><path class="B" d="M2602.75 0h1.58"/><path class="C" d="M2609.06 0h1.58M2613.79 0h1.58"/></g><g id="s98"><path class="G" d="M2657.94 0h1.58"/></g><g id="s99"><path class="G" d="M2801.41 0h1.58"/><path class="R" d="M2802.99 0h1.58"/><path class="L" d="M2804.57 0h1.58"/></g><g id="s100"><path class="B" d="M2186.5 0h1.58M2189.66 0h1.58M2214.88 0h1.58M2218.04 0h1.58"/><path class="R" d="M2188.08 0h1.58M2216.46 0h1.58"/><path class="O" d="M2191.23 0h1.58M2219.61 0h1.58M2224.34 0h1.58M2227.5 0h3.15"/><path class="G" d="M2192.81 0h1.58M2195.96 0h3.15M2200.69 0h3.15M2222.77 0h1.58M2230.65 0h1.58"/><path class="L" d="M2194.39 0h1.58"/><path class="A" d="M2199.12 0h1.58M2221.19 0h1.58"/><path class="C" d="M2225.92 0h1.58"/><path class="S" d="M2232.23 0h1.58"/></g><g id="s101"><path class="Y" d="M2799.84 0h1.58"/><path class="C" d="M2801.41 0h1.58"/><path class="L" d="M2804.57 0h1.58"/></g><g id="s102"><path class="Y" d="M2005.18 0h1.58"/><path class="G" d="M2019.37 0h1.58M2025.68 0h1.58M2028.83 0h1.58"/><path class="C" d="M2020.95 0h1.58"/><path class="B" d="M2024.1 0h1.58"/><path class="O" d="M2027.26 0h1.58"/></g><g id="s103"><path class="B" d="M2186.5 0h1.58M2189.66 0h1.58M2214.88 0h1.58M2218.04 0h1.58"/><path class="R" d="M2188.08 0h1.58M2216.46 0h1.58"/><path class="O" d="M2191.23 0h1.58M2219.61 0h3.15M2224.34 0h1.58M2227.5 0h3.15"/><path class="G" d="M2192.81 0h1.58M2195.96 0h3.15M2200.69 0h3.15M2222.77 0h1.58M2230.65 0h1.58"/><path class="L" d="M2194.39 0h1.58"/><path class="A" d="M2199.12 0h1.58"/><path class="C" d="M2225.92 0h1.58"/><path class="S" d="M2232.23 0h1.58"/></g><g id="s104"><path class="O" d="M2596.44 0h1.58M2602.75 0h1.58M2615.36 0h1.58"/><path class="L" d="M2599.6 0h1.58M2604.33 0h3.15"/></g><g id="s105"><path class="L" d="M2657.94 0h1.58"/></g><g id="s106"><path class="O" d="M2799.84 0h1.58"/><path class="L" d="M2802.99 0h1.58"/><path class="Y" d="M2804.57 0h1.58"/><path class="R" d="M2806.15 0h3.15"/><path class="N" d="M2809.3 0h1.58"/><path class="B" d="M2810.88 0h3.15"/><path class="G" d="M2814.03 0h3.15"/></g><g id="s107"><path class="C" d="M2817.18 0h3.15"/></g><g id="s108"><path class="O" d="M2596.44 0h1.58M2599.6 0h1.58M2602.75 0h1.58M2605.9 0h1.58M2610.63 0h1.58"/><path class="L" d="M2598.02 0h1.58M2601.17 0h1.58M2604.33 0h1.58M2607.48 0h1.58"/><path class="Y" d="M2609.06 0h1.58"/><path class="R" d="M2615.36 0h1.58"/></g><g id="s109"><path class="B" d="M2801.41 0h1.58"/><path class="G" d="M2802.99 0h1.58"/><path class="C" d="M2804.57 0h1.58"/></g><g id="s110"><path class="O" d="M2599.6 0h1.58M2615.36 0h1.58"/><path class="A" d="M2601.17 0h1.58"/><path class="S" d="M2602.75 0h1.58M2607.48 0h1.58"/><path class="C" d="M2605.9 0h1.58"/></g><g id="s111"><path class="A" d="M2657.94 0h1.58"/></g><g id="s112"><path class="R" d="M2727.31 0h1.58"/></g><g id="s113"><path class="Y" d="M2801.41 0h1.58"/><path class="C" d="M2802.99 0h1.58"/><path class="L" d="M2804.57 0h1.58"/></g><g id="s114"><path class="Y" d="M1240.48 0h1.58"/></g><g id="s115"><path class="O" d="M1429.69 0h1.58M1439.15 0h1.58M1465.95 0h1.58M1489.6 0h1.58"/><path class="G" d="M1431.26 0h1.58M1440.72 0h1.58M1443.88 0h1.58M1450.18 0h1.58M1454.91 0h1.58M1476.99 0h1.58"/><path class="R" d="M1432.84 0h4.73M1445.45 0h1.58M1458.07 0h1.58M1481.72 0h3.15M1491.18 0h1.58"/><path class="Y" d="M1437.57 0h1.58M1453.34 0h1.58M1486.45 0h1.58"/><path class="S" d="M1442.3 0h1.58M1451.76 0h1.58"/><path class="B" d="M1447.03 0h3.15"/><path class="C" d="M1456.49 0h1.58M1459.64 0h1.58M1480.14 0h1.58"/><path class="N" d="M1462.8 0h1.58M1467.53 0h1.58M1478.56 0h1.58"/><path class="L" d="M1464.37 0h1.58M1488.02 0h1.58"/><path class="P" d="M1484.87 0h1.58"/></g><g id="s116"><path class="O" d="M2309.48 0h1.58"/></g><g id="s117"><path class="G" d="M2312.64 0h1.58M2320.52 0h1.58M2328.4 0h1.58M2369.4 0h3.15"/><path class="L" d="M2317.37 0h3.15"/><path class="S" d="M2322.1 0h1.58"/><path class="O" d="M2323.67 0h1.58M2363.09 0h1.58"/><path class="Y" d="M2325.25 0h1.58M2367.82 0h1.58"/><path class="N" d="M2326.83 0h1.58"/><path class="A" d="M2364.67 0h3.15M2372.55 0h1.58"/></g><g id="s118"><path class="O" d="M2599.6 0h1.58M2615.36 0h1.58"/><path class="A" d="M2601.17 0h3.15"/><path class="C" d="M2604.33 0h1.58M2607.48 0h1.58"/><path class="W" d="M2605.9 0h1.58M2609.06 0h1.58"/></g><g id="s119"><path class="C" d="M2727.31 0h1.58"/><path class="Y" d="M2732.04 0h1.58"/></g><g id="s120"><path class="C" d="M2801.41 0h1.58"/><path class="W" d="M2802.99 0h1.58"/><path class="L" d="M2804.57 0h1.58"/></g><g id="s121"><path class="Y" d="M988.21 0h1.58"/><path class="R" d="M989.79 0h1.58M1030.78 0h1.58M1035.51 0h1.58"/><path class="G" d="M991.36 0h3.15"/><path class="B" d="M994.52 0h1.58"/><path class="O" d="M996.09 0h1.58"/><path class="W" d="M1010.28 0h1.58"/><path class="L" d="M1011.86 0h1.58"/><path class="S" d="M1013.44 0h1.58"/></g><g id="s122"><path class="A" d="M1336.66 0h1.58M1355.58 0h1.58"/><path class="O" d="M1338.24 0h1.58M1341.39 0h1.58M1357.16 0h1.58M1361.89 0h1.58"/><path class="Y" d="M1339.81 0h1.58M1363.46 0h1.58"/><path class="G" d="M1358.73 0h1.58"/><path class="B" d="M1360.31 0h1.58"/><path class="L" d="M1365.04 0h1.58"/></g><g id="s123"><path class="B" d="M2312.64 0h1.58"/><path class="L" d="M2317.37 0h3.15"/><path class="G" d="M2320.52 0h1.58M2328.4 0h1.58M2369.4 0h3.15"/><path class="S" d="M2322.1 0h1.58"/><path class="O" d="M2323.67 0h1.58M2363.09 0h1.58"/><path class="Y" d="M2325.25 0h1.58M2367.82 0h1.58"/><path class="N" d="M2326.83 0h1.58"/><path class="A" d="M2364.67 0h3.15M2372.55 0h1.58"/></g><g id="s124"><path class="G" d="M2599.6 0h1.58"/><path class="A" d="M2601.17 0h1.58"/><path class="O" d="M2602.75 0h1.58M2615.36 0h1.58"/><path class="C" d="M2604.33 0h3.15"/></g><g id="s125"><path class="O" d="M2657.94 0h1.58"/></g><g id="s126"><path class="Y" d="M988.21 0h1.58"/><path class="R" d="M989.79 0h1.58M1033.93 0h3.15"/><path class="G" d="M991.36 0h3.15M999.25 0h1.58"/><path class="B" d="M994.52 0h1.58"/><path class="O" d="M996.09 0h1.58"/><path class="W" d="M1010.28 0h1.58"/><path class="L" d="M1011.86 0h1.58"/><path class="S" d="M1013.44 0h1.58"/></g><g id="s127"><path class="O" d="M2602.75 0h1.58M2615.36 0h1.58"/><path class="C" d="M2604.33 0h1.58"/><path class="S" d="M2605.9 0h1.58"/></g><g id="s128"><path class="Y" d="M2801.41 0h1.58"/><path class="C" d="M2802.99 0h1.58"/><path class="B" d="M2804.57 0h1.58"/></g><g id="s129"><path class="Y" d="M2801.41 0h1.58"/><path class="C" d="M2802.99 0h1.58"/><path class="O" d="M2804.57 0h1.58"/></g><g id="s130"><path class="Y" d="M988.21 0h1.58"/><path class="C" d="M1011.86 0h3.15"/></g><g id="s131"><path class="N" d="M1056.01 0h1.58M1059.16 0h3.15"/><path class="L" d="M1062.31 0h1.58"/></g><g id="s132"><path class="G" d="M1366.62 0h1.58M1369.77 0h1.58M1385.54 0h1.58M1388.69 0h1.58M1393.42 0h1.58M1421.8 0h1.58"/><path class="N" d="M1368.19 0h1.58M1380.81 0h1.58"/><path class="C" d="M1371.35 0h3.15M1390.27 0h1.58M1428.11 0h1.58"/><path class="O" d="M1374.5 0h3.15M1379.23 0h1.58M1426.53 0h1.58"/><path class="B" d="M1377.65 0h1.58M1423.38 0h1.58"/><path class="A" d="M1382.38 0h3.15"/><path class="W" d="M1391.85 0h1.58"/><path class="R" d="M1395 0h1.58M1402.88 0h1.58"/><path class="S" d="M1424.96 0h1.58"/></g><g id="s133"><path class="C" d="M1429.69 0h1.58M1435.99 0h1.58M1445.45 0h1.58M1465.95 0h1.58"/><path class="G" d="M1431.26 0h1.58M1448.61 0h1.58M1451.76 0h1.58M1464.37 0h1.58M1467.53 0h1.58"/><path class="O" d="M1432.84 0h3.15M1439.15 0h3.15M1447.03 0h1.58M1450.18 0h1.58M1462.8 0h1.58"/><path class="L" d="M1437.57 0h1.58M1442.3 0h3.15"/></g><g id="s134"><path class="B" d="M1500.64 0h1.58M1519.56 0h1.58"/><path class="O" d="M1502.21 0h1.58M1521.13 0h1.58M1541.63 0h1.58M1544.79 0h1.58M1551.09 0h3.15"/><path class="C" d="M1503.79 0h1.58M1535.32 0h1.58M1543.21 0h1.58"/><path class="L" d="M1505.37 0h1.58M1536.9 0h1.58M1540.06 0h1.58M1546.36 0h4.73"/><path class="G" d="M1506.94 0h3.15M1538.48 0h1.58"/></g><g id="s135"><path class="L" d="M1585.78 0h1.58M1598.39 0h3.15"/><path class="O" d="M1595.24 0h3.15M1604.7 0h1.58"/><path class="C" d="M1601.55 0h3.15"/><path class="G" d="M1606.28 0h3.15"/></g><g id="s136"><path class="G" d="M1681.96 0h3.15M1686.69 0h1.58M1689.84 0h1.58"/><path class="O" d="M1691.42 0h1.58"/><path class="C" d="M1692.99 0h1.58"/></g><g id="s137"><path class="P" d="M1773.41 0h1.58"/><path class="O" d="M1774.98 0h1.58M1781.29 0h1.58M1801.79 0h1.58M1806.52 0h1.58"/><path class="C" d="M1776.56 0h1.58M1792.33 0h1.58"/><path class="N" d="M1778.14 0h1.58"/><path class="W" d="M1779.71 0h1.58M1790.75 0h1.58M1803.36 0h1.58"/><path class="B" d="M1782.87 0h1.58M1797.06 0h1.58"/><path class="G" d="M1784.44 0h1.58M1789.17 0h1.58M1798.63 0h1.58M1804.94 0h1.58"/><path class="R" d="M1786.02 0h3.15M1795.48 0h1.58M1800.21 0h1.58"/><path class="S" d="M1793.9 0h1.58"/></g><g id="s138"><path class="O" d="M2599.6 0h1.58M2602.75 0h1.58"/><path class="A" d="M2601.17 0h1.58"/><path class="C" d="M2604.33 0h1.58"/><path class="B" d="M2605.9 0h1.58"/><path class="W" d="M2615.36 0h1.58"/></g><g id="s139"><path class="S" d="M2801.41 0h1.58"/><path class="L" d="M2802.99 0h3.15"/></g><g id="s140"><path class="Y" d="M988.21 0h1.58"/><path class="R" d="M989.79 0h1.58M1033.93 0h3.15"/><path class="G" d="M991.36 0h3.15M1008.71 0h1.58"/><path class="B" d="M994.52 0h1.58"/><path class="O" d="M996.09 0h1.58"/><path class="W" d="M1010.28 0h1.58"/><path class="L" d="M1011.86 0h1.58"/><path class="S" d="M1013.44 0h1.58"/></g><g id="s141"><path class="B" d="M1130.11 0h1.58"/><path class="G" d="M1131.69 0h1.58"/><path class="W" d="M1133.27 0h3.15M1161.65 0h1.58"/><path class="Y" d="M1172.68 0h1.58"/></g><g id="s142"><path class="B" d="M2312.64 0h1.58"/><path class="L" d="M2314.21 0h1.58M2317.37 0h3.15"/><path class="G" d="M2320.52 0h1.58M2328.4 0h1.58M2369.4 0h3.15"/><path class="S" d="M2322.1 0h1.58"/><path class="O" d="M2323.67 0h1.58M2363.09 0h1.58"/><path class="Y" d="M2325.25 0h1.58M2367.82 0h1.58"/><path class="N" d="M2326.83 0h1.58"/><path class="A" d="M2364.67 0h3.15M2372.55 0h1.58"/></g><g id="s143"><path class="O" d="M2599.6 0h1.58"/><path class="A" d="M2601.17 0h1.58M2604.33 0h1.58"/><path class="S" d="M2602.75 0h1.58M2605.9 0h1.58"/><path class="W" d="M2615.36 0h1.58"/></g><g id="s144"><path class="Y" d="M865.23 0h1.58M899.91 0h1.58"/><path class="B" d="M866.8 0h3.15M903.07 0h1.58M921.99 0h1.58"/><path class="A" d="M871.53 0h1.58M880.99 0h1.58M892.03 0h4.73"/><path class="G" d="M874.69 0h1.58M882.57 0h1.58M914.11 0h1.58M917.26 0h1.58M920.41 0h1.58M923.57 0h1.58"/><path class="O" d="M876.26 0h1.58M884.15 0h1.58M907.8 0h1.58M912.53 0h1.58M918.84 0h1.58"/><path class="S" d="M877.84 0h1.58M890.45 0h1.58M898.34 0h1.58"/><path class="W" d="M879.42 0h1.58M901.49 0h1.58"/><path class="R" d="M887.3 0h1.58M896.76 0h1.58M909.38 0h3.15M915.68 0h1.58"/><path class="P" d="M888.88 0h1.58"/><path class="C" d="M906.22 0h1.58"/></g><g id="s145"><path class="G" d="M925.14 0h1.58M933.03 0h1.58M937.76 0h1.58M959.83 0h3.15"/><path class="B" d="M926.72 0h1.58M934.6 0h1.58M950.37 0h3.15M972.44 0h1.58"/><path class="R" d="M929.87 0h1.58M966.14 0h1.58M985.06 0h1.58"/><path class="Y" d="M931.45 0h1.58M980.33 0h1.58"/><path class="W" d="M940.91 0h1.58"/><path class="C" d="M942.49 0h1.58M955.1 0h1.58M958.25 0h1.58M967.71 0h1.58M977.17 0h1.58"/><path class="L" d="M944.06 0h1.58"/><path class="A" d="M945.64 0h3.15M964.56 0h1.58M983.48 0h1.58"/><path class="O" d="M948.79 0h1.58M962.98 0h1.58M970.87 0h1.58M981.9 0h1.58"/><path class="S" d="M953.52 0h1.58M969.29 0h1.58M974.02 0h3.15"/></g><g id="s146"><path class="Y" d="M988.21 0h1.58"/><path class="R" d="M989.79 0h1.58M1033.93 0h3.15"/><path class="G" d="M991.36 0h3.15M999.25 0h1.58M1008.71 0h1.58"/><path class="B" d="M994.52 0h1.58"/><path class="O" d="M996.09 0h1.58"/><path class="W" d="M1010.28 0h1.58"/><path class="L" d="M1011.86 0h1.58"/><path class="S" d="M1013.44 0h1.58"/></g><g id="s147"><path class="Y" d="M1051.28 0h1.58"/><path class="G" d="M1052.85 0h1.58M1057.58 0h1.58"/><path class="N" d="M1054.43 0h1.58M1062.31 0h1.58"/><path class="C" d="M1056.01 0h1.58"/><path class="L" d="M1059.16 0h1.58"/><path class="B" d="M1060.74 0h1.58"/></g><g id="s148"><path class="W" d="M1336.66 0h1.58"/><path class="O" d="M1338.24 0h1.58M1341.39 0h1.58M1357.16 0h1.58M1361.89 0h1.58"/><path class="Y" d="M1339.81 0h1.58M1363.46 0h1.58"/><path class="R" d="M1355.58 0h1.58"/><path class="G" d="M1358.73 0h1.58"/><path class="B" d="M1360.31 0h1.58"/><path class="L" d="M1365.04 0h1.58"/></g><g id="s149"><path class="O" d="M2599.6 0h1.58M2602.75 0h1.58M2615.36 0h1.58"/><path class="A" d="M2601.17 0h1.58"/><path class="C" d="M2604.33 0h1.58"/><path class="Y" d="M2605.9 0h1.58"/></g><g id="s150"><path class="Y" d="M934.6 0h1.58"/><path class="G" d="M936.18 0h1.58M940.91 0h1.58M944.06 0h1.58M953.52 0h1.58M958.25 0h1.58M967.71 0h1.58M974.02 0h4.73"/><path class="N" d="M937.76 0h1.58M947.22 0h1.58M961.41 0h1.58"/><path class="P" d="M939.33 0h1.58M950.37 0h1.58"/><path class="O" d="M942.49 0h1.58M962.98 0h3.15M972.44 0h1.58M980.33 0h1.58"/><path class="R" d="M945.64 0h1.58M948.79 0h1.58M959.83 0h1.58"/><path class="B" d="M951.95 0h1.58M956.68 0h1.58M969.29 0h1.58M981.9 0h1.58M985.06 0h1.58"/><path class="C" d="M955.1 0h1.58M970.87 0h1.58M978.75 0h1.58"/><path class="S" d="M966.14 0h1.58"/><path class="A" d="M983.48 0h1.58"/></g><g id="s151"><path class="B" d="M1130.11 0h1.58"/><path class="G" d="M1131.69 0h1.58"/><path class="W" d="M1133.27 0h3.15M1161.65 0h1.58"/></g><g id="s152"><path class="N" d="M1221.56 0h1.58"/><path class="Y" d="M1223.14 0h1.58M1229.45 0h1.58"/><path class="O" d="M1226.29 0h1.58M1232.6 0h1.58"/><path class="G" d="M1227.87 0h1.58M1237.33 0h1.58"/><path class="S" d="M1231.02 0h1.58"/><path class="R" d="M1238.91 0h1.58"/></g><g id="s153"><path class="Y" d="M983.48 0h1.58"/><path class="W" d="M985.06 0h1.58"/></g><g id="s154"><path class="A" d="M988.21 0h1.58"/><path class="W" d="M989.79 0h1.58"/><path class="S" d="M991.36 0h1.58"/><path class="O" d="M992.94 0h3.15M1010.28 0h1.58"/><path class="G" d="M996.09 0h1.58M1013.44 0h1.58"/><path class="N" d="M1011.86 0h1.58"/></g><g id="s155"><path class="G" d="M1052.85 0h1.58M1060.74 0h1.58M1079.66 0h3.15"/><path class="N" d="M1054.43 0h1.58"/><path class="B" d="M1056.01 0h3.15M1078.08 0h1.58"/><path class="O" d="M1059.16 0h1.58M1063.89 0h1.58M1067.05 0h4.73M1087.54 0h1.58"/><path class="W" d="M1062.31 0h1.58M1074.93 0h1.58"/><path class="S" d="M1065.47 0h1.58"/><path class="A" d="M1071.78 0h3.15M1076.51 0h1.58M1082.81 0h1.58"/></g><g id="s156"><path class="B" d="M1130.11 0h1.58"/><path class="O" d="M1131.69 0h1.58"/><path class="G" d="M1133.27 0h1.58"/></g><g id="s157"><path class="R" d="M1183.72 0h1.58"/><path class="B" d="M1185.3 0h1.58M1194.76 0h1.58M1216.83 0h3.15"/><path class="A" d="M1196.33 0h1.58M1199.49 0h1.58M1202.64 0h1.58"/><path class="O" d="M1197.91 0h1.58M1210.52 0h1.58M1213.68 0h1.58M1232.6 0h1.58"/><path class="S" d="M1201.06 0h1.58M1221.56 0h1.58"/><path class="G" d="M1204.22 0h1.58M1223.14 0h1.58M1227.87 0h1.58"/><path class="N" d="M1205.79 0h1.58M1226.29 0h1.58M1231.02 0h1.58"/><path class="C" d="M1207.37 0h1.58M1238.91 0h1.58"/><path class="W" d="M1208.95 0h1.58"/><path class="L" d="M1212.1 0h1.58M1219.98 0h1.58"/><path class="Y" d="M1229.45 0h1.58M1237.33 0h1.58"/></g><g id="s158"><path class="G" d="M2599.6 0h1.58M2615.36 0h1.58"/><path class="R" d="M2601.17 0h1.58"/><path class="O" d="M2602.75 0h1.58"/><path class="C" d="M2604.33 0h1.58"/></g><g id="s159"><path class="C" d="M2801.41 0h1.58"/><path class="B" d="M2804.57 0h1.58"/></g><g id="s160"><path class="A" d="M988.21 0h1.58"/><path class="W" d="M989.79 0h1.58"/><path class="Y" d="M991.36 0h3.15"/><path class="B" d="M994.52 0h1.58"/><path class="O" d="M996.09 0h1.58M1010.28 0h1.58M1013.44 0h1.58"/><path class="S" d="M997.67 0h1.58"/><path class="N" d="M1011.86 0h1.58"/></g><g id="s161"><path class="A" d="M1052.85 0h1.58M1065.47 0h1.58M1071.78 0h3.15"/><path class="N" d="M1054.43 0h1.58"/><path class="B" d="M1056.01 0h3.15"/><path class="G" d="M1059.16 0h6.31M1074.93 0h1.58M1078.08 0h1.58M1081.24 0h1.58M1084.39 0h1.58"/><path class="O" d="M1067.05 0h3.15"/><path class="S" d="M1070.2 0h1.58"/><path class="W" d="M1076.51 0h1.58M1079.66 0h1.58"/></g><g id="s162"><path class="O" d="M1130.11 0h3.15"/></g><g id="s163"><path class="G" d="M1183.72 0h1.58M1196.33 0h1.58M1205.79 0h1.58M1223.14 0h1.58M1227.87 0h1.58"/><path class="N" d="M1185.3 0h1.58M1231.02 0h1.58"/><path class="R" d="M1186.87 0h3.15M1197.91 0h1.58"/><path class="B" d="M1191.6 0h1.58M1199.49 0h1.58M1207.37 0h1.58M1218.41 0h3.15"/><path class="W" d="M1193.18 0h1.58M1204.22 0h1.58"/><path class="A" d="M1194.76 0h1.58"/><path class="L" d="M1201.06 0h1.58M1216.83 0h1.58"/><path class="P" d="M1202.64 0h1.58"/><path class="O" d="M1208.95 0h6.31M1232.6 0h1.58"/><path class="S" d="M1221.56 0h1.58"/><path class="Y" d="M1226.29 0h1.58M1229.45 0h1.58M1234.18 0h1.58"/><path class="C" d="M1238.91 0h1.58"/></g><g id="s164"><path class="G" d="M2598.02 0h1.58"/><path class="A" d="M2599.6 0h3.15M2615.36 0h1.58"/><path class="C" d="M2602.75 0h3.15"/><path class="O" d="M2605.9 0h1.58"/></g><g id="s165"><path class="C" d="M2801.41 0h1.58"/><path class="L" d="M2804.57 0h1.58"/></g><g id="s166"><path class="Y" d="M989.79 0h1.58M992.94 0h1.58M996.09 0h1.58"/><path class="W" d="M991.36 0h1.58"/><path class="B" d="M994.52 0h1.58"/><path class="S" d="M997.67 0h1.58M1011.86 0h1.58"/><path class="G" d="M999.25 0h1.58"/><path class="O" d="M1010.28 0h1.58M1035.51 0h1.58"/><path class="N" d="M1033.93 0h1.58"/></g><g id="s167"><path class="G" d="M1052.85 0h1.58M1059.16 0h1.58M1062.31 0h1.58M1079.66 0h1.58"/><path class="N" d="M1054.43 0h1.58"/><path class="B" d="M1056.01 0h3.15M1063.89 0h1.58M1074.93 0h1.58"/><path class="O" d="M1060.74 0h1.58M1065.47 0h9.46M1078.08 0h1.58"/><path class="A" d="M1076.51 0h1.58"/><path class="Y" d="M1081.24 0h1.58"/></g><g id="s168"><path class="G" d="M1130.11 0h1.58"/></g><g id="s169"><path class="B" d="M1183.72 0h3.15M1202.64 0h1.58M1221.56 0h1.58"/><path class="A" d="M1188.45 0h1.58M1207.37 0h1.58"/><path class="C" d="M1191.6 0h1.58M1238.91 0h1.58"/><path class="R" d="M1193.18 0h1.58"/><path class="W" d="M1194.76 0h1.58M1201.06 0h1.58M1213.68 0h1.58M1227.87 0h1.58"/><path class="Y" d="M1196.33 0h1.58M1229.45 0h1.58M1237.33 0h1.58"/><path class="G" d="M1197.91 0h1.58M1208.95 0h3.15M1231.02 0h1.58"/><path class="O" d="M1199.49 0h1.58M1212.1 0h1.58M1216.83 0h1.58M1226.29 0h1.58M1235.75 0h1.58"/><path class="S" d="M1204.22 0h3.15M1219.98 0h1.58"/><path class="L" d="M1218.41 0h1.58M1223.14 0h1.58"/><path class="N" d="M1232.6 0h3.15"/></g><g id="s170"><path class="A" d="M2601.17 0h1.58"/><path class="O" d="M2602.75 0h1.58M2605.9 0h1.58M2615.36 0h1.58"/><path class="C" d="M2604.33 0h1.58"/></g><g id="s171"><path class="Y" d="M980.33 0h1.58M983.48 0h1.58"/><path class="W" d="M981.9 0h1.58"/><path class="G" d="M986.63 0h1.58"/></g><g id="s172"><path class="G" d="M988.21 0h1.58M997.67 0h1.58"/><path class="O" d="M989.79 0h1.58M1010.28 0h3.15M1035.51 0h1.58"/><path class="B" d="M992.94 0h1.58"/><path class="Y" d="M994.52 0h1.58"/><path class="S" d="M996.09 0h1.58"/><path class="N" d="M1033.93 0h1.58"/></g><g id="s173"><path class="G" d="M1052.85 0h1.58M1059.16 0h1.58M1062.31 0h1.58"/><path class="N" d="M1054.43 0h1.58"/><path class="B" d="M1056.01 0h3.15M1063.89 0h1.58M1074.93 0h1.58M1078.08 0h1.58"/><path class="O" d="M1060.74 0h1.58M1067.05 0h6.31"/><path class="C" d="M1065.47 0h1.58"/><path class="A" d="M1073.35 0h1.58"/><path class="S" d="M1076.51 0h1.58"/></g><g id="s174"><path class="Y" d="M1130.11 0h1.58"/><path class="W" d="M1131.69 0h1.58"/></g><g id="s175"><path class="B" d="M1183.72 0h3.15M1202.64 0h1.58M1208.95 0h1.58M1221.56 0h1.58"/><path class="G" d="M1188.45 0h1.58M1197.91 0h3.15M1210.52 0h1.58M1213.68 0h1.58"/><path class="C" d="M1191.6 0h1.58M1205.79 0h3.15M1238.91 0h1.58"/><path class="R" d="M1193.18 0h1.58"/><path class="W" d="M1194.76 0h1.58M1201.06 0h1.58M1216.83 0h1.58M1227.87 0h1.58"/><path class="P" d="M1196.33 0h1.58"/><path class="O" d="M1204.22 0h1.58M1212.1 0h1.58M1235.75 0h1.58"/><path class="S" d="M1218.41 0h1.58M1226.29 0h1.58"/><path class="L" d="M1219.98 0h1.58"/><path class="Y" d="M1223.14 0h1.58M1229.45 0h1.58M1237.33 0h1.58"/><path class="N" d="M1231.02 0h4.73"/></g><g id="s176"><path class="O" d="M2601.17 0h1.58"/><path class="A" d="M2602.75 0h1.58"/><path class="C" d="M2604.33 0h1.58M2615.36 0h1.58"/><path class="W" d="M2605.9 0h1.58"/></g><g id="s177"><path class="G" d="M989.79 0h3.15M997.67 0h1.58"/><path class="O" d="M992.94 0h3.15M1010.28 0h1.58M1013.44 0h1.58"/><path class="N" d="M1011.86 0h1.58"/></g><g id="s178"><path class="G" d="M1052.85 0h3.15M1059.16 0h1.58M1062.31 0h1.58M1065.47 0h1.58M1070.2 0h1.58"/><path class="O" d="M1056.01 0h1.58M1060.74 0h1.58M1067.05 0h3.15"/><path class="B" d="M1057.58 0h1.58M1063.89 0h1.58"/></g><g id="s179"><path class="G" d="M1130.11 0h1.58"/><path class="O" d="M1131.69 0h1.58"/><path class="W" d="M1161.65 0h1.58"/><path class="Y" d="M1172.68 0h1.58"/></g><g id="s180"><path class="B" d="M1183.72 0h1.58M1201.06 0h1.58M1212.1 0h1.58M1216.83 0h1.58M1219.98 0h1.58"/><path class="G" d="M1185.3 0h1.58M1197.91 0h1.58M1210.52 0h1.58M1227.87 0h1.58"/><path class="O" d="M1199.49 0h1.58M1213.68 0h1.58M1226.29 0h1.58M1232.6 0h1.58"/><path class="L" d="M1202.64 0h1.58M1205.79 0h1.58M1208.95 0h1.58M1218.41 0h1.58"/><path class="S" d="M1204.22 0h1.58M1207.37 0h1.58"/><path class="A" d="M1221.56 0h3.15"/><path class="Y" d="M1229.45 0h1.58M1237.33 0h1.58"/><path class="N" d="M1231.02 0h1.58"/><path class="C" d="M1238.91 0h1.58"/></g><g id="s181"><path class="Y" d="M989.79 0h1.58"/><path class="G" d="M991.36 0h3.15"/><path class="B" d="M996.09 0h1.58"/><path class="O" d="M997.67 0h1.58"/><path class="W" d="M1010.28 0h1.58"/><path class="S" d="M1011.86 0h1.58"/></g><g id="s182"><path class="N" d="M1052.85 0h1.58"/><path class="O" d="M1054.43 0h1.58M1057.58 0h1.58M1060.74 0h1.58M1063.89 0h1.58M1067.05 0h3.15"/><path class="G" d="M1056.01 0h1.58M1059.16 0h1.58M1062.31 0h1.58M1065.47 0h1.58M1070.2 0h1.58"/></g><g id="s183"><path class="G" d="M1130.11 0h3.15"/><path class="O" d="M1133.27 0h1.58"/><path class="W" d="M1161.65 0h1.58M1172.68 0h1.58"/></g><g id="s184"><path class="R" d="M1183.72 0h1.58M1193.18 0h1.58"/><path class="B" d="M1185.3 0h1.58M1197.91 0h1.58M1207.37 0h1.58M1218.41 0h1.58"/><path class="G" d="M1188.45 0h1.58M1205.79 0h1.58M1227.87 0h1.58M1231.02 0h1.58"/><path class="C" d="M1191.6 0h1.58M1238.91 0h1.58"/><path class="A" d="M1194.76 0h3.15M1210.52 0h1.58"/><path class="O" d="M1199.49 0h4.73M1221.56 0h3.15M1232.6 0h1.58"/><path class="W" d="M1204.22 0h1.58"/><path class="S" d="M1208.95 0h1.58"/><path class="N" d="M1213.68 0h1.58M1216.83 0h1.58M1226.29 0h1.58"/><path class="L" d="M1219.98 0h1.58"/><path class="Y" d="M1229.45 0h1.58M1237.33 0h1.58"/></g><g id="s185"><path class="Y" d="M2512.88 0h1.58"/><path class="C" d="M2514.46 0h3.15"/></g><g id="s186"><path class="A" d="M2599.6 0h3.15M2604.33 0h1.58"/><path class="S" d="M2602.75 0h1.58M2605.9 0h1.58"/><path class="W" d="M2615.36 0h1.58"/></g><g id="s187"><path class="Y" d="M2801.41 0h1.58"/><path class="L" d="M2802.99 0h3.15"/></g><g id="s188"><path class="Y" d="M988.21 0h1.58M996.09 0h1.58"/><path class="G" d="M989.79 0h3.15M999.25 0h1.58M1011.86 0h1.58"/><path class="O" d="M992.94 0h1.58M997.67 0h1.58M1010.28 0h1.58M1013.44 0h1.58"/><path class="B" d="M994.52 0h1.58"/></g><g id="s189"><path class="G" d="M1052.85 0h1.58M1060.74 0h1.58M1063.89 0h1.58M1081.24 0h4.73"/><path class="N" d="M1054.43 0h1.58"/><path class="B" d="M1056.01 0h3.15M1067.05 0h1.58M1079.66 0h1.58"/><path class="Y" d="M1059.16 0h1.58"/><path class="O" d="M1062.31 0h1.58M1065.47 0h1.58M1068.62 0h1.58M1078.08 0h1.58"/><path class="S" d="M1070.2 0h1.58M1073.35 0h3.15"/><path class="A" d="M1071.78 0h1.58M1076.51 0h1.58M1085.97 0h1.58"/><path class="W" d="M1087.54 0h3.15"/></g><g id="s190"><path class="B" d="M1130.11 0h1.58M1149.03 0h1.58"/><path class="G" d="M1131.69 0h1.58M1152.19 0h1.58M1155.34 0h1.58"/><path class="R" d="M1133.27 0h1.58M1153.76 0h1.58"/><path class="L" d="M1150.61 0h1.58M1161.65 0h1.58"/><path class="P" d="M1156.92 0h1.58"/><path class="O" d="M1160.07 0h1.58"/><path class="A" d="M1172.68 0h1.58"/></g><g id="s191"><path class="B" d="M1183.72 0h1.58M1207.37 0h1.58M1218.41 0h1.58"/><path class="S" d="M1185.3 0h1.58M1208.95 0h1.58"/><path class="O" d="M1202.64 0h1.58M1221.56 0h3.15M1232.6 0h1.58"/><path class="W" d="M1204.22 0h1.58"/><path class="G" d="M1205.79 0h1.58M1227.87 0h1.58M1231.02 0h1.58"/><path class="A" d="M1210.52 0h1.58"/><path class="N" d="M1213.68 0h1.58M1216.83 0h1.58M1226.29 0h1.58"/><path class="L" d="M1219.98 0h1.58"/><path class="Y" d="M1229.45 0h1.58M1237.33 0h1.58"/><path class="C" d="M1238.91 0h1.58"/></g><g id="s192"><path class="O" d="M2599.6 0h1.58M2615.36 0h1.58"/><path class="A" d="M2601.17 0h1.58M2604.33 0h1.58"/><path class="S" d="M2602.75 0h1.58M2605.9 0h1.58"/></g><g id="s193"><path class="Y" d="M983.48 0h1.58"/><path class="A" d="M985.06 0h1.58"/></g><g id="s194"><path class="W" d="M988.21 0h3.15"/><path class="Y" d="M991.36 0h3.15M996.09 0h1.58"/><path class="B" d="M994.52 0h1.58"/><path class="S" d="M997.67 0h1.58"/><path class="G" d="M999.25 0h1.58M1011.86 0h1.58"/><path class="O" d="M1010.28 0h1.58M1013.44 0h1.58"/></g><g id="s195"><path class="G" d="M1052.85 0h6.31M1060.74 0h1.58M1079.66 0h3.15"/><path class="O" d="M1059.16 0h1.58M1062.31 0h1.58M1067.05 0h3.15M1074.93 0h1.58M1078.08 0h1.58"/><path class="B" d="M1063.89 0h1.58"/><path class="C" d="M1065.47 0h1.58M1082.81 0h3.15"/><path class="S" d="M1070.2 0h1.58M1073.35 0h1.58"/><path class="A" d="M1071.78 0h1.58M1076.51 0h1.58"/><path class="W" d="M1085.97 0h3.15"/></g><g id="s196"><path class="B" d="M1130.11 0h1.58M1172.68 0h1.58"/><path class="G" d="M1131.69 0h1.58"/><path class="R" d="M1133.27 0h1.58"/></g><g id="s197"><path class="C" d="M1185.3 0h1.58M1191.6 0h1.58M1238.91 0h1.58"/><path class="G" d="M1186.87 0h3.15M1205.79 0h1.58M1227.87 0h1.58M1231.02 0h1.58"/><path class="R" d="M1193.18 0h1.58"/><path class="A" d="M1194.76 0h3.15M1210.52 0h1.58"/><path class="B" d="M1197.91 0h1.58M1207.37 0h1.58M1218.41 0h1.58"/><path class="O" d="M1199.49 0h4.73M1221.56 0h3.15M1232.6 0h1.58"/><path class="W" d="M1204.22 0h1.58"/><path class="S" d="M1208.95 0h1.58"/><path class="N" d="M1213.68 0h1.58M1216.83 0h1.58M1226.29 0h1.58"/><path class="L" d="M1219.98 0h1.58"/><path class="Y" d="M1229.45 0h1.58M1237.33 0h1.58"/></g><g id="s198"><path class="O" d="M2599.6 0h1.58M2610.63 0h1.58"/><path class="A" d="M2601.17 0h3.15"/><path class="C" d="M2604.33 0h1.58M2607.48 0h1.58"/><path class="W" d="M2605.9 0h1.58"/></g><g id="s199"><path class="R" d="M2727.31 0h1.58"/><path class="O" d="M2732.04 0h1.58"/></g><g id="s200"><path class="L" d="M1052.85 0h1.58"/><path class="B" d="M1054.43 0h3.15M1063.89 0h1.58M1074.93 0h1.58"/><path class="O" d="M1057.58 0h1.58M1060.74 0h1.58M1068.62 0h1.58M1076.51 0h1.58M1081.24 0h1.58"/><path class="G" d="M1059.16 0h1.58M1062.31 0h1.58M1082.81 0h1.58"/><path class="A" d="M1065.47 0h1.58M1071.78 0h1.58M1078.08 0h1.58M1084.39 0h3.15"/><path class="Y" d="M1067.05 0h1.58"/><path class="S" d="M1070.2 0h1.58M1073.35 0h1.58M1079.66 0h1.58M1087.54 0h1.58"/><path class="P" d="M1089.12 0h1.58"/></g><g id="s201"><path class="B" d="M1130.11 0h1.58"/><path class="G" d="M1131.69 0h1.58"/><path class="R" d="M1133.27 0h1.58"/></g><g id="s202"><path class="B" d="M1185.3 0h1.58M1197.91 0h1.58M1207.37 0h1.58M1218.41 0h1.58"/><path class="L" d="M1186.87 0h1.58M1219.98 0h1.58"/><path class="S" d="M1188.45 0h1.58M1208.95 0h1.58"/><path class="C" d="M1191.6 0h1.58M1238.91 0h1.58"/><path class="R" d="M1193.18 0h1.58"/><path class="A" d="M1194.76 0h3.15M1210.52 0h1.58"/><path class="O" d="M1199.49 0h4.73M1221.56 0h3.15M1232.6 0h1.58"/><path class="W" d="M1204.22 0h1.58"/><path class="G" d="M1205.79 0h1.58M1227.87 0h1.58M1231.02 0h1.58"/><path class="N" d="M1213.68 0h1.58M1216.83 0h1.58M1226.29 0h1.58"/><path class="Y" d="M1229.45 0h1.58M1237.33 0h1.58"/></g><g id="s203"><path class="O" d="M2599.6 0h1.58M2610.63 0h1.58"/><path class="A" d="M2601.17 0h3.15"/><path class="G" d="M2604.33 0h1.58"/><path class="C" d="M2605.9 0h3.15"/></g><g id="s204"><path class="R" d="M2727.31 0h1.58"/><path class="A" d="M2732.04 0h1.58"/></g><g id="s205"><path class="L" d="M2801.41 0h1.58"/><path class="C" d="M2804.57 0h1.58"/></g><g id="s206"><path class="G" d="M1052.85 0h1.58M1060.74 0h1.58M1063.89 0h1.58M1082.81 0h4.73"/><path class="N" d="M1054.43 0h1.58"/><path class="B" d="M1056.01 0h3.15M1068.62 0h1.58M1079.66 0h1.58"/><path class="O" d="M1059.16 0h1.58M1062.31 0h1.58M1074.93 0h1.58M1081.24 0h1.58"/><path class="A" d="M1065.47 0h1.58M1076.51 0h1.58"/><path class="S" d="M1067.05 0h1.58M1078.08 0h1.58"/><path class="W" d="M1070.2 0h1.58M1073.35 0h1.58"/><path class="Y" d="M1071.78 0h1.58"/><path class="P" d="M1089.12 0h1.58"/></g><g id="s207"><path class="O" d="M2599.6 0h1.58M2610.63 0h1.58"/><path class="A" d="M2601.17 0h3.15M2615.36 0h1.58"/><path class="C" d="M2604.33 0h1.58M2607.48 0h1.58"/><path class="W" d="M2605.9 0h1.58"/></g><g id="s208"><path class="C" d="M2801.41 0h1.58M2804.57 0h1.58"/></g><g id="s209"><path class="O" d="M2599.6 0h1.58M2610.63 0h3.15"/><path class="A" d="M2601.17 0h3.15"/><path class="C" d="M2604.33 0h1.58M2607.48 0h1.58"/><path class="W" d="M2605.9 0h1.58"/><path class="R" d="M2615.36 0h1.58"/></g><g id="s210"><path class="Y" d="M2801.41 0h1.58"/><path class="C" d="M2802.99 0h3.15"/></g><g id="s211"><path class="A" d="M1934.23 0h1.58M1945.27 0h1.58"/><path class="G" d="M1935.81 0h1.58M1942.11 0h3.15M1957.88 0h1.58M1965.76 0h1.58M1968.92 0h1.58M1973.65 0h1.58M1976.8 0h1.58M1979.95 0h4.73"/><path class="C" d="M1938.96 0h1.58M1946.84 0h1.58M1951.57 0h1.58"/><path class="O" d="M1940.54 0h1.58M1950 0h1.58M1975.22 0h1.58M1978.38 0h1.58M1992.57 0h1.58"/><path class="N" d="M1948.42 0h1.58M1962.61 0h1.58M1967.34 0h1.58M1970.49 0h1.58M1987.84 0h1.58"/><path class="R" d="M1953.15 0h1.58M1994.14 0h1.58"/><path class="L" d="M1961.03 0h1.58M1964.19 0h1.58"/><path class="B" d="M1972.07 0h1.58"/><path class="S" d="M1984.68 0h3.15"/><path class="P" d="M1989.41 0h1.58"/><path class="Y" d="M1990.99 0h1.58M1995.72 0h1.58"/></g><g id="s212"><path class="A" d="M1997.3 0h1.58"/><path class="G" d="M1998.87 0h1.58M2002.03 0h1.58M2005.18 0h1.58M2019.37 0h1.58M2025.68 0h1.58M2028.83 0h1.58"/><path class="O" d="M2000.45 0h1.58M2027.26 0h1.58"/><path class="C" d="M2003.6 0h1.58M2020.95 0h1.58"/><path class="B" d="M2024.1 0h1.58"/></g><g id="s213"><path class="B" d="M2312.64 0h1.58"/><path class="O" d="M2314.21 0h1.58M2323.67 0h1.58M2363.09 0h1.58"/><path class="C" d="M2315.79 0h1.58"/><path class="L" d="M2317.37 0h3.15"/><path class="G" d="M2320.52 0h1.58M2328.4 0h1.58M2369.4 0h3.15"/><path class="S" d="M2322.1 0h1.58"/><path class="Y" d="M2325.25 0h1.58M2367.82 0h1.58"/><path class="N" d="M2326.83 0h1.58"/><path class="A" d="M2364.67 0h3.15M2372.55 0h1.58"/></g><g id="s214"><path class="A" d="M2599.6 0h4.73M2610.63 0h1.58"/><path class="C" d="M2604.33 0h1.58M2607.48 0h1.58"/><path class="W" d="M2605.9 0h1.58"/><path class="O" d="M2612.21 0h1.58"/></g><g id="s215"><path class="B" d="M1130.11 0h1.58"/><path class="G" d="M1131.69 0h1.58"/><path class="W" d="M1133.27 0h3.15"/></g><g id="s216"><path class="Y" d="M1218.41 0h1.58M1229.45 0h1.58"/><path class="B" d="M1219.98 0h1.58M1232.6 0h1.58"/><path class="O" d="M1226.29 0h1.58"/><path class="G" d="M1227.87 0h1.58M1237.33 0h1.58"/><path class="S" d="M1231.02 0h1.58"/><path class="R" d="M1238.91 0h1.58"/></g><g id="s217"><path class="G" d="M2512.88 0h1.58"/><path class="C" d="M2514.46 0h1.58"/><path class="O" d="M2516.03 0h1.58"/></g><g id="s218"><path class="O" d="M2596.44 0h1.58M2602.75 0h1.58M2607.48 0h1.58"/><path class="A" d="M2598.02 0h1.58M2604.33 0h1.58"/><path class="G" d="M2599.6 0h1.58"/><path class="C" d="M2601.17 0h1.58"/><path class="R" d="M2609.06 0h1.58M2615.36 0h1.58"/></g><g id="s219"><path class="Y" d="M1218.41 0h1.58M1229.45 0h1.58"/><path class="O" d="M1219.98 0h1.58M1226.29 0h1.58"/><path class="G" d="M1227.87 0h1.58M1237.33 0h1.58"/><path class="S" d="M1231.02 0h1.58"/><path class="B" d="M1232.6 0h1.58"/><path class="R" d="M1238.91 0h1.58"/></g><g id="s220"><path class="R" d="M2596.44 0h3.15M2609.06 0h1.58M2615.36 0h1.58"/><path class="O" d="M2599.6 0h1.58M2607.48 0h1.58"/><path class="B" d="M2601.17 0h1.58"/><path class="C" d="M2602.75 0h1.58"/><path class="G" d="M2604.33 0h1.58"/></g><g id="s221"><path class="O" d="M1183.72 0h3.15"/><path class="G" d="M1227.87 0h1.58M1237.33 0h1.58"/><path class="Y" d="M1229.45 0h1.58"/><path class="S" d="M1231.02 0h1.58"/><path class="B" d="M1232.6 0h1.58"/><path class="R" d="M1238.91 0h1.58"/></g><g id="s222"><path class="A" d="M1934.23 0h1.58M1945.27 0h1.58"/><path class="G" d="M1935.81 0h1.58M1942.11 0h3.15M1954.73 0h1.58M1957.88 0h7.88M1967.34 0h3.15M1972.07 0h1.58M1981.53 0h1.58M1986.26 0h1.58"/><path class="C" d="M1938.96 0h1.58M1946.84 0h1.58M1951.57 0h1.58M1989.41 0h3.15"/><path class="O" d="M1940.54 0h1.58M1950 0h1.58M1965.76 0h1.58M1979.95 0h1.58M1983.11 0h1.58"/><path class="N" d="M1948.42 0h1.58"/><path class="R" d="M1953.15 0h1.58M1987.84 0h1.58"/><path class="B" d="M1970.49 0h1.58M1975.22 0h1.58"/><path class="S" d="M1973.65 0h1.58M1992.57 0h3.15"/><path class="Y" d="M1976.8 0h3.15M1995.72 0h1.58"/><path class="L" d="M1984.68 0h1.58"/></g><g id="s223"><path class="Y" d="M1997.3 0h1.58M2000.45 0h1.58"/><path class="S" d="M1998.87 0h1.58"/><path class="G" d="M2002.03 0h1.58M2005.18 0h1.58M2019.37 0h1.58M2025.68 0h1.58M2028.83 0h1.58"/><path class="C" d="M2003.6 0h1.58M2020.95 0h1.58"/><path class="B" d="M2024.1 0h1.58"/><path class="O" d="M2027.26 0h1.58"/></g><g id="s224"><path class="B" d="M1183.72 0h1.58M1232.6 0h1.58"/><path class="A" d="M1185.3 0h1.58"/><path class="G" d="M1227.87 0h1.58M1237.33 0h1.58"/><path class="Y" d="M1229.45 0h1.58"/><path class="C" d="M1231.02 0h1.58"/><path class="R" d="M1238.91 0h1.58"/></g><g id="s225"><path class="O" d="M2602.75 0h1.58"/><path class="A" d="M2604.33 0h3.15"/><path class="C" d="M2607.48 0h1.58M2612.21 0h1.58"/></g><g id="s226"><path class="C" d="M2727.31 0h1.58"/><path class="O" d="M2730.46 0h1.58"/><path class="R" d="M2732.04 0h1.58"/></g><g id="s227"><path class="B" d="M2801.41 0h1.58"/><path class="C" d="M2804.57 0h1.58"/></g><g id="s228"><path class="N" d="M1052.85 0h3.15"/><path class="B" d="M1057.58 0h6.31"/></g><g id="s229"><path class="R" d="M1336.66 0h1.58"/><path class="O" d="M1338.24 0h3.15"/><path class="W" d="M1341.39 0h1.58"/><path class="C" d="M1355.58 0h1.58"/></g><g id="s230"><path class="O" d="M1371.35 0h3.15M1382.38 0h1.58M1404.46 0h1.58"/><path class="G" d="M1374.5 0h1.58M1380.81 0h1.58M1383.96 0h3.15M1410.77 0h1.58M1413.92 0h1.58M1418.65 0h4.73M1426.53 0h1.58"/><path class="N" d="M1376.08 0h1.58M1415.5 0h1.58"/><path class="B" d="M1377.65 0h1.58M1402.88 0h1.58M1406.04 0h3.15M1423.38 0h1.58"/><path class="L" d="M1379.23 0h1.58M1417.07 0h1.58"/><path class="A" d="M1409.19 0h1.58"/><path class="Y" d="M1412.34 0h1.58"/><path class="W" d="M1424.96 0h1.58"/><path class="R" d="M1428.11 0h1.58"/></g><g id="s231"><path class="O" d="M2599.6 0h1.58M2610.63 0h3.15"/><path class="A" d="M2601.17 0h1.58"/><path class="G" d="M2602.75 0h1.58"/><path class="C" d="M2605.9 0h1.58"/></g><g id="s232"><path class="L" d="M1407.61 0h1.58M1417.07 0h1.58"/><path class="A" d="M1409.19 0h1.58"/><path class="G" d="M1410.77 0h1.58M1413.92 0h1.58M1418.65 0h4.73M1426.53 0h1.58"/><path class="Y" d="M1412.34 0h1.58"/><path class="N" d="M1415.5 0h1.58"/><path class="B" d="M1423.38 0h1.58"/><path class="W" d="M1424.96 0h1.58"/><path class="R" d="M1428.11 0h1.58"/></g><g id="s233"><path class="O" d="M2593.29 0h1.58M2602.75 0h3.15"/><path class="A" d="M2594.87 0h1.58M2601.17 0h1.58"/><path class="C" d="M2596.44 0h4.73"/><path class="R" d="M2605.9 0h1.58"/></g><g id="s234"><path class="Y" d="M2801.41 0h1.58"/><path class="B" d="M2802.99 0h1.58"/><path class="S" d="M2804.57 0h1.58"/></g><g id="s235"><path class="B" d="M2186.5 0h1.58M2189.66 0h1.58M2213.31 0h1.58"/><path class="R" d="M2188.08 0h1.58M2214.88 0h1.58M2221.19 0h1.58"/><path class="O" d="M2191.23 0h1.58M2216.46 0h1.58M2219.61 0h1.58M2224.34 0h1.58M2227.5 0h3.15"/><path class="G" d="M2192.81 0h1.58M2195.96 0h3.15M2200.69 0h3.15M2230.65 0h1.58"/><path class="L" d="M2194.39 0h1.58"/><path class="A" d="M2199.12 0h1.58M2232.23 0h1.58"/><path class="S" d="M2225.92 0h1.58"/></g><g id="s236"><path class="B" d="M2311.06 0h1.58"/></g><g id="s237"><path class="O" d="M2599.6 0h1.58"/><path class="A" d="M2601.17 0h3.15"/><path class="C" d="M2604.33 0h1.58M2607.48 0h1.58"/><path class="W" d="M2605.9 0h1.58M2609.06 0h1.58"/></g><g id="s238"><path class="R" d="M2802.99 0h1.58"/><path class="Y" d="M2804.57 0h1.58"/></g><g id="s239"><path class="B" d="M2186.5 0h1.58M2189.66 0h1.58"/><path class="R" d="M2188.08 0h1.58M2213.31 0h3.15"/><path class="O" d="M2191.23 0h1.58M2216.46 0h1.58M2219.61 0h1.58M2224.34 0h1.58M2227.5 0h3.15"/><path class="G" d="M2192.81 0h1.58M2195.96 0h3.15M2200.69 0h3.15M2230.65 0h1.58"/><path class="L" d="M2194.39 0h1.58"/><path class="A" d="M2199.12 0h1.58M2232.23 0h1.58"/><path class="C" d="M2221.19 0h1.58"/><path class="S" d="M2225.92 0h1.58"/></g><g id="s240"><path class="O" d="M1183.72 0h1.58"/><path class="A" d="M1185.3 0h1.58"/><path class="G" d="M1227.87 0h1.58M1237.33 0h1.58"/><path class="Y" d="M1229.45 0h1.58"/><path class="S" d="M1231.02 0h1.58"/><path class="B" d="M1232.6 0h1.58"/><path class="R" d="M1238.91 0h1.58"/></g><g id="s241"><path class="G" d="M2599.6 0h1.58"/><path class="C" d="M2601.17 0h1.58"/><path class="O" d="M2602.75 0h1.58"/><path class="Y" d="M2604.33 0h1.58"/><path class="N" d="M2609.06 0h1.58"/></g><g id="s242"><path class="O" d="M2727.31 0h1.58M2730.46 0h3.15"/></g><g id="s243"><path class="R" d="M2801.41 0h1.58"/><path class="O" d="M2802.99 0h3.15M2812.45 0h1.58"/><path class="B" d="M2806.15 0h3.15M2810.88 0h1.58"/><path class="N" d="M2809.3 0h1.58"/></g></defs>
<path class="gp" d="M462 9.47H2834M462 23.66H2834M462 37.86H2834M462 52.05H2834M462 66.23H2834M462 80.42H2834M462 94.61H2834M462 108.8H2834M462 122.99H2834M462 137.18H2834M462 151.38H2834M462 165.56H2834M462 179.75H2834M462 193.94H2834M462 208.13H2834M462 222.32H2834M462 236.51H2834M462 250.7H2834M462 264.89H2834M462 279.09H2834M462 293.28H2834M462 307.47H2834M462 321.66H2834M462 335.85H2834M462 350.04H2834M462 364.23H2834M462 378.42H2834M462 392.61H2834M462 406.8H2834M462 420.99H2834M462 435.18H2834M462 449.37H2834M462 463.56H2834M462 477.75H2834M462 491.94H2834M462 506.12H2834M462 520.32H2834M462 534.5H2834M462 548.7H2834M462 562.88H2834M462 577.08H2834M462 591.26H2834M462 605.46H2834M462 619.64H2834M462 648.02H2834M462 662.22H2834M462 676.4H2834M462 690.6H2834M462 704.78H2834M462 718.98H2834M462 733.16H2834M462 747.36H2834M462 761.54H2834M462 775.74H2834M462 789.92H2834M462 804.12H2834M462 818.3H2834M462 832.5H2834M462 846.68H2834M462 860.88H2834"/>
<path class="ds" d="M458.5 4.5v10.65M458.5 18.69v10.65M458.5 32.88v10.65M458.5 47.07v10.65M458.5 61.26v10.65M458.5 75.45v10.65M458.5 89.64v10.65M458.5 103.83v10.65M458.5 118.02v10.65M458.5 132.21v10.65M458.5 146.4v10.65M458.5 160.59v10.65M458.5 174.78v10.65M458.5 188.97v10.65M458.5 203.16v10.65M458.5 217.35v10.65M458.5 231.54v10.65M458.5 245.73v10.65M458.5 259.92v10.65M458.5 274.11v10.65M458.5 288.3v10.65M458.5 302.49v10.65M458.5 316.68v10.65M458.5 330.87v10.65M458.5 345.06v10.65M458.5 359.25v10.65M458.5 373.44v10.65M458.5 387.63v10.65M458.5 401.82v10.65M458.5 416.01v10.65M458.5 430.2v10.65M458.5 444.39v10.65M458.5 458.58v10.65M458.5 472.77v10.65M458.5 486.96v10.65M458.5 501.15v10.65M458.5 515.34v10.65M458.5 529.53v10.65M458.5 543.72v10.65M458.5 557.91v10.65M458.5 572.1v10.65M458.5 586.29v10.65M458.5 600.48v10.65M458.5 614.67v10.65M458.5 628.86v10.65M458.5 643.05v10.65M458.5 657.24v10.65M458.5 671.43v10.65M458.5 685.62v10.65M458.5 699.81v10.65M458.5 714v10.65M458.5 728.19v10.65M458.5 742.38v10.65M458.5 756.57v10.65M458.5 770.76v10.65M458.5 784.95v10.65M458.5 799.14v10.65M458.5 813.33v10.65M458.5 827.52v10.65M458.5 841.71v10.65M458.5 855.9v10.65"/>
<g class="al"><use href="#s0" y="9.88"/><use href="#s1" y="9.88"/><use href="#s2" y="9.88"/><use href="#s3" y="9.88"/><use href="#s4" y="9.88"/><use href="#s5" y="9.88"/><use href="#s6" y="9.88"/><use href="#s7" y="9.88"/><use href="#s8" y="9.88"/><use href="#s9" y="9.88"/><use href="#s10" y="9.88"/><use href="#s11" y="9.88"/><use href="#s12" y="9.88"/><use href="#s13" y="9.88"/><use href="#s14" y="9.88"/><use href="#s15" y="9.88"/><use href="#s16" y="9.88"/><use href="#s17" y="9.88"/><use href="#s18" y="9.88"/><use href="#s19" y="9.88"/><use href="#s20" y="9.88"/><use href="#s21" y="9.88"/><use href="#s22" y="9.88"/><use href="#s23" y="9.88"/><use href="#s24" y="9.88"/><use href="#s25" y="9.88"/><use href="#s26" y="9.88"/><use href="#s0" y="24.06"/><use href="#s1" y="24.06"/><use href="#s2" y="24.06"/><use href="#s27" y="24.06"/><use href="#s4" y="24.06"/><use href="#s28" y="24.06"/><use href="#s6" y="24.06"/><use href="#s29" y="24.06"/><use href="#s30" y="24.06"/><use href="#s31" y="24.06"/><use href="#s10" y="24.06"/><use href="#s11" y="24.06"/><use href="#s32" y="24.06"/><use href="#s13" y="24.06"/><use href="#s33" y="24.06"/><use href="#s15" y="24.06"/><use href="#s34" y="24.06"/><use href="#s17" y="24.06"/><use href="#s35" y="24.06"/><use href="#s36" y="24.06"/><use href="#s20" y="24.06"/><use href="#s21" y="24.06"/><use href="#s37" y="24.06"/><use href="#s38" y="24.06"/><use href="#s39" y="24.06"/><use href="#s40" y="24.06"/><use href="#s0" y="38.26"/><use href="#s1" y="38.26"/><use href="#s2" y="38.26"/><use href="#s27" y="38.26"/><use href="#s4" y="38.26"/><use href="#s28" y="38.26"/><use href="#s6" y="38.26"/><use href="#s29" y="38.26"/><use href="#s30" y="38.26"/><use href="#s31" y="38.26"/><use href="#s10" y="38.26"/><use href="#s11" y="38.26"/><use href="#s32" y="38.26"/><use href="#s13" y="38.26"/><use href="#s41" y="38.26"/><use href="#s15" y="38.26"/><use href="#s34" y="38.26"/><use href="#s17" y="38.26"/><use href="#s35" y="38.26"/><use href="#s42" y="38.26"/><use href="#s20" y="38.26"/><use href="#s21" y="38.26"/><use href="#s22" y="38.26"/><use href="#s38" y="38.26"/><use href="#s39" y="38.26"/><use href="#s40" y="38.26"/><use href="#s0" y="52.45"/><use href="#s1" y="52.45"/><use href="#s2" y="52.45"/><use href="#s27" y="52.45"/><use href="#s4" y="52.45"/><use href="#s28" y="52.45"/><use href="#s6" y="52.45"/><use href="#s29" y="52.45"/><use href="#s30" y="52.45"/><use href="#s31" y="52.45"/><use href="#s10" y="52.45"/><use href="#s11" y="52.45"/><use href="#s32" y="52.45"/><use href="#s13" y="52.45"/><use href="#s41" y="52.45"/><use href="#s15" y="52.45"/><use href="#s34" y="52.45"/><use href="#s17" y="52.45"/><use href="#s35" y="52.45"/><use href="#s36" y="52.45"/><use href="#s20" y="52.45"/><use href="#s21" y="52.45"/><use href="#s22" y="52.45"/><use href="#s43" y="52.45"/><use href="#s39" y="52.45"/><use href="#s40" y="52.45"/><use href="#s0" y="66.63"/><use href="#s1" y="66.63"/><use href="#s2" y="66.63"/><use href="#s27" y="66.63"/><use href="#s4" y="66.63"/><use href="#s28" y="66.63"/><use href="#s6" y="66.63"/><use href="#s29" y="66.63"/><use href="#s30" y="66.63"/><use href="#s31" y="66.63"/><use href="#s10" y="66.63"/><use href="#s11" y="66.63"/><use href="#s32" y="66.63"/><use href="#s13" y="66.63"/><use href="#s41" y="66.63"/><use href="#s15" y="66.63"/><use href="#s34" y="66.63"/><use href="#s17" y="66.63"/><use href="#s35" y="66.63"/><use href="#s36" y="66.63"/><use href="#s20" y="66.63"/><use href="#s21" y="66.63"/><use href="#s22" y="66.63"/><use href="#s43" y="66.63"/><use href="#s39" y="66.63"/><use href="#s40" y="66.63"/><use href="#s0" y="80.83"/><use href="#s1" y="80.83"/><use href="#s2" y="80.83"/><use href="#s27" y="80.83"/><use href="#s4" y="80.83"/><use href="#s28" y="80.83"/><use href="#s6" y="80.83"/><use href="#s29" y="80.83"/><use href="#s30" y="80.83"/><use href="#s31" y="80.83"/><use href="#s10" y="80.83"/><use href="#s11" y="80.83"/><use href="#s32" y="80.83"/><use href="#s13" y="80.83"/><use href="#s41" y="80.83"/><use href="#s15" y="80.83"/><use href="#s34" y="80.83"/><use href="#s17" y="80.83"/><use href="#s35" y="80.83"/><use href="#s36" y="80.83"/><use href="#s20" y="80.83"/><use href="#s21" y="80.83"/><use href="#s22" y="80.83"/><use href="#s43" y="80.83"/><use href="#s39" y="80.83"/><use href="#s40" y="80.83"/><use href="#s0" y="95.02"/><use href="#s1" y="95.02"/><use href="#s44" y="95.02"/><use href="#s45" y="95.02"/><use href="#s4" y="95.02"/><use href="#s28" y="95.02"/><use href="#s6" y="95.02"/><use href="#s46" y="95.02"/><use href="#s30" y="95.02"/><use href="#s31" y="95.02"/><use href="#s10" y="95.02"/><use href="#s11" y="95.02"/><use href="#s32" y="95.02"/><use href="#s13" y="95.02"/><use href="#s33" y="95.02"/><use href="#s15" y="95.02"/><use href="#s34" y="95.02"/><use href="#s17" y="95.02"/><use href="#s18" y="95.02"/><use href="#s19" y="95.02"/><use href="#s20" y="95.02"/><use href="#s21" y="95.02"/><use href="#s22" y="95.02"/><use href="#s23" y="95.02"/><use href="#s47" y="95.02"/><use href="#s48" y="109.2"/><use href="#s49" y="109.2"/><use href="#s1" y="109.2"/><use href="#s50" y="109.2"/><use href="#s51" y="109.2"/><use href="#s4" y="109.2"/><use href="#s52" y="109.2"/><use href="#s6" y="109.2"/><use href="#s46" y="109.2"/><use href="#s30" y="109.2"/><use href="#s31" y="109.2"/><use href="#s10" y="109.2"/><use href="#s11" y="109.2"/><use href="#s32" y="109.2"/><use href="#s13" y="109.2"/><use href="#s33" y="109.2"/><use href="#s15" y="109.2"/><use href="#s34" y="109.2"/><use href="#s17" y="109.2"/><use href="#s53" y="109.2"/><use href="#s19" y="109.2"/><use href="#s20" y="109.2"/><use href="#s21" y="109.2"/><use href="#s22" y="109.2"/><use href="#s23" y="109.2"/><use href="#s24" y="109.2"/><use href="#s25" y="109.2"/><use href="#s54" y="109.2"/><use href="#s0" y="123.39"/><use href="#s1" y="123.39"/><use href="#s44" y="123.39"/><use href="#s55" y="123.39"/><use href="#s4" y="123.39"/><use href="#s56" y="123.39"/><use href="#s6" y="123.39"/><use href="#s46" y="123.39"/><use href="#s30" y="123.39"/><use href="#s31" y="123.39"/><use href="#s10" y="123.39"/><use href="#s11" y="123.39"/><use href="#s32" y="123.39"/><use href="#s13" y="123.39"/><use href="#s33" y="123.39"/><use href="#s15" y="123.39"/><use href="#s34" y="123.39"/><use href="#s17" y="123.39"/><use href="#s57" y="123.39"/><use href="#s19" y="123.39"/><use href="#s20" y="123.39"/><use href="#s21" y="123.39"/><use href="#s22" y="123.39"/><use href="#s58" y="123.39"/><use href="#s59" y="123.39"/><use href="#s60" y="123.39"/><use href="#s61" y="137.58"/><use href="#s62" y="137.58"/><use href="#s63" y="137.58"/><use href="#s64" y="137.58"/><use href="#s65" y="137.58"/><use href="#s66" y="137.58"/><use href="#s56" y="137.58"/><use href="#s6" y="137.58"/><use href="#s46" y="137.58"/><use href="#s30" y="137.58"/><use href="#s31" y="137.58"/><use href="#s10" y="137.58"/><use href="#s11" y="137.58"/><use href="#s32" y="137.58"/><use href="#s13" y="137.58"/><use href="#s33" y="137.58"/><use href="#s15" y="137.58"/><use href="#s34" y="137.58"/><use href="#s17" y="137.58"/><use href="#s57" y="137.58"/><use href="#s19" y="137.58"/><use href="#s20" y="137.58"/><use href="#s21" y="137.58"/><use href="#s22" y="137.58"/><use href="#s58" y="137.58"/><use href="#s59" y="137.58"/><use href="#s60" y="137.58"/><use href="#s67" y="151.78"/><use href="#s68" y="151.78"/><use href="#s69" y="151.78"/><use href="#s70" y="151.78"/><use href="#s71" y="151.78"/><use href="#s56" y="151.78"/><use href="#s6" y="151.78"/><use href="#s46" y="151.78"/><use href="#s30" y="151.78"/><use href="#s31" y="151.78"/><use href="#s10" y="151.78"/><use href="#s11" y="151.78"/><use href="#s32" y="151.78"/><use href="#s13" y="151.78"/><use href="#s33" y="151.78"/><use href="#s15" y="151.78"/><use href="#s34" y="151.78"/><use href="#s17" y="151.78"/><use href="#s57" y="151.78"/><use href="#s19" y="151.78"/><use href="#s20" y="151.78"/><use href="#s21" y="151.78"/><use href="#s22" y="151.78"/><use href="#s58" y="151.78"/><use href="#s59" y="151.78"/><use href="#s60" y="151.78"/><use href="#s67" y="165.97"/><use href="#s72" y="165.97"/><use href="#s49" y="165.97"/><use href="#s1" y="165.97"/><use href="#s44" y="165.97"/><use href="#s55" y="165.97"/><use href="#s4" y="165.97"/><use href="#s56" y="165.97"/><use href="#s6" y="165.97"/><use href="#s46" y="165.97"/><use href="#s30" y="165.97"/><use href="#s31" y="165.97"/><use href="#s10" y="165.97"/><use href="#s11" y="165.97"/><use href="#s32" y="165.97"/><use href="#s13" y="165.97"/><use href="#s33" y="165.97"/><use href="#s15" y="165.97"/><use href="#s34" y="165.97"/><use href="#s17" y="165.97"/><use href="#s57" y="165.97"/><use href="#s19" y="165.97"/><use href="#s20" y="165.97"/><use href="#s21" y="165.97"/><use href="#s22" y="165.97"/><use href="#s58" y="165.97"/><use href="#s59" y="165.97"/><use href="#s60" y="165.97"/><use href="#s0" y="180.16"/><use href="#s1" y="180.16"/><use href="#s2" y="180.16"/><use href="#s73" y="180.16"/><use href="#s4" y="180.16"/><use href="#s28" y="180.16"/><use href="#s6" y="180.16"/><use href="#s46" y="180.16"/><use href="#s30" y="180.16"/><use href="#s31" y="180.16"/><use href="#s10" y="180.16"/><use href="#s11" y="180.16"/><use href="#s32" y="180.16"/><use href="#s74" y="180.16"/><use href="#s75" y="180.16"/><use href="#s76" y="180.16"/><use href="#s77" y="180.16"/><use href="#s78" y="180.16"/><use href="#s79" y="180.16"/><use href="#s80" y="180.16"/><use href="#s81" y="180.16"/><use href="#s82" y="180.16"/><use href="#s83" y="180.16"/><use href="#s84" y="180.16"/><use href="#s85" y="180.16"/><use href="#s86" y="180.16"/><use href="#s87" y="180.16"/><use href="#s88" y="180.16"/><use href="#s0" y="194.34"/><use href="#s1" y="194.34"/><use href="#s89" y="194.34"/><use href="#s3" y="194.34"/><use href="#s4" y="194.34"/><use href="#s28" y="194.34"/><use href="#s6" y="194.34"/><use href="#s46" y="194.34"/><use href="#s30" y="194.34"/><use href="#s31" y="194.34"/><use href="#s10" y="194.34"/><use href="#s11" y="194.34"/><use href="#s32" y="194.34"/><use href="#s13" y="194.34"/><use href="#s33" y="194.34"/><use href="#s90" y="194.34"/><use href="#s91" y="194.34"/><use href="#s92" y="194.34"/><use href="#s93" y="194.34"/><use href="#s94" y="194.34"/><use href="#s95" y="194.34"/><use href="#s96" y="194.34"/><use href="#s97" y="194.34"/><use href="#s98" y="194.34"/><use href="#s40" y="194.34"/><use href="#s99" y="194.34"/><use href="#s0" y="208.53"/><use href="#s1" y="208.53"/><use href="#s89" y="208.53"/><use href="#s3" y="208.53"/><use href="#s4" y="208.53"/><use href="#s28" y="208.53"/><use href="#s6" y="208.53"/><use href="#s46" y="208.53"/><use href="#s30" y="208.53"/><use href="#s31" y="208.53"/><use href="#s10" y="208.53"/><use href="#s11" y="208.53"/><use href="#s32" y="208.53"/><use href="#s13" y="208.53"/><use href="#s33" y="208.53"/><use href="#s15" y="208.53"/><use href="#s34" y="208.53"/><use href="#s17" y="208.53"/><use href="#s100" y="208.53"/><use href="#s19" y="208.53"/><use href="#s20" y="208.53"/><use href="#s21" y="208.53"/><use href="#s22" y="208.53"/><use href="#s38" y="208.53"/><use href="#s101" y="208.53"/><use href="#s0" y="222.72"/><use href="#s1" y="222.72"/><use href="#s89" y="222.72"/><use href="#s3" y="222.72"/><use href="#s4" y="222.72"/><use href="#s28" y="222.72"/><use href="#s6" y="222.72"/><use href="#s46" y="222.72"/><use href="#s30" y="222.72"/><use href="#s31" y="222.72"/><use href="#s10" y="222.72"/><use href="#s11" y="222.72"/><use href="#s32" y="222.72"/><use href="#s13" y="222.72"/><use href="#s33" y="222.72"/><use href="#s15" y="222.72"/><use href="#s102" y="222.72"/><use href="#s17" y="222.72"/><use href="#s103" y="222.72"/><use href="#s19" y="222.72"/><use href="#s20" y="222.72"/><use href="#s21" y="222.72"/><use href="#s22" y="222.72"/><use href="#s104" y="222.72"/><use href="#s105" y="222.72"/><use href="#s106" y="222.72"/><use href="#s107" y="222.72"/><use href="#s0" y="236.91"/><use href="#s1" y="236.91"/><use href="#s89" y="236.91"/><use href="#s3" y="236.91"/><use href="#s4" y="236.91"/><use href="#s28" y="236.91"/><use href="#s6" y="236.91"/><use href="#s46" y="236.91"/><use href="#s30" y="236.91"/><use href="#s31" y="236.91"/><use href="#s10" y="236.91"/><use href="#s11" y="236.91"/><use href="#s32" y="236.91"/><use href="#s13" y="236.91"/><use href="#s33" y="236.91"/><use href="#s15" y="236.91"/><use href="#s102" y="236.91"/><use href="#s17" y="236.91"/><use href="#s103" y="236.91"/><use href="#s19" y="236.91"/><use href="#s20" y="236.91"/><use href="#s21" y="236.91"/><use href="#s22" y="236.91"/><use href="#s108" y="236.91"/><use href="#s98" y="236.91"/><use href="#s109" y="236.91"/><use href="#s0" y="251.1"/><use href="#s1" y="251.1"/><use href="#s89" y="251.1"/><use href="#s3" y="251.1"/><use href="#s4" y="251.1"/><use href="#s28" y="251.1"/><use href="#s6" y="251.1"/><use href="#s46" y="251.1"/><use href="#s30" y="251.1"/><use href="#s31" y="251.1"/><use href="#s10" y="251.1"/><use href="#s11" y="251.1"/><use href="#s32" y="251.1"/><use href="#s13" y="251.1"/><use href="#s33" y="251.1"/><use href="#s15" y="251.1"/><use href="#s102" y="251.1"/><use href="#s17" y="251.1"/><use href="#s100" y="251.1"/><use href="#s19" y="251.1"/><use href="#s20" y="251.1"/><use href="#s21" y="251.1"/><use href="#s22" y="251.1"/><use href="#s110" y="251.1"/><use href="#s111" y="251.1"/><use href="#s112" y="251.1"/><use href="#s113" y="251.1"/><use href="#s0" y="265.29"/><use href="#s1" y="265.29"/><use href="#s2" y="265.29"/><use href="#s73" y="265.29"/><use href="#s114" y="265.29"/><use href="#s28" y="265.29"/><use href="#s6" y="265.29"/><use href="#s115" y="265.29"/><use href="#s30" y="265.29"/><use href="#s31" y="265.29"/><use href="#s10" y="265.29"/><use href="#s11" y="265.29"/><use href="#s32" y="265.29"/><use href="#s13" y="265.29"/><use href="#s33" y="265.29"/><use href="#s15" y="265.29"/><use href="#s34" y="265.29"/><use href="#s17" y="265.29"/><use href="#s103" y="265.29"/><use href="#s116" y="265.29"/><use href="#s117" y="265.29"/><use href="#s21" y="265.29"/><use href="#s22" y="265.29"/><use href="#s118" y="265.29"/><use href="#s24" y="265.29"/><use href="#s119" y="265.29"/><use href="#s120" y="265.29"/><use href="#s121" y="279.49"/><use href="#s1" y="279.49"/><use href="#s2" y="279.49"/><use href="#s3" y="279.49"/><use href="#s4" y="279.49"/><use href="#s122" y="279.49"/><use href="#s6" y="279.49"/><use href="#s46" y="279.49"/><use href="#s30" y="279.49"/><use href="#s31" y="279.49"/><use href="#s10" y="279.49"/><use href="#s11" y="279.49"/><use href="#s32" y="279.49"/><use href="#s13" y="279.49"/><use href="#s33" y="279.49"/><use href="#s15" y="279.49"/><use href="#s34" y="279.49"/><use href="#s17" y="279.49"/><use href="#s103" y="279.49"/><use href="#s116" y="279.49"/><use href="#s123" y="279.49"/><use href="#s21" y="279.49"/><use href="#s22" y="279.49"/><use href="#s124" y="279.49"/><use href="#s125" y="279.49"/><use href="#s112" y="279.49"/><use href="#s113" y="279.49"/><use href="#s126" y="293.68"/><use href="#s1" y="293.68"/><use href="#s2" y="293.68"/><use href="#s3" y="293.68"/><use href="#s4" y="293.68"/><use href="#s28" y="293.68"/><use href="#s6" y="293.68"/><use href="#s46" y="293.68"/><use href="#s30" y="293.68"/><use href="#s31" y="293.68"/><use href="#s10" y="293.68"/><use href="#s11" y="293.68"/><use href="#s32" y="293.68"/><use href="#s13" y="293.68"/><use href="#s33" y="293.68"/><use href="#s15" y="293.68"/><use href="#s34" y="293.68"/><use href="#s17" y="293.68"/><use href="#s100" y="293.68"/><use href="#s116" y="293.68"/><use href="#s123" y="293.68"/><use href="#s21" y="293.68"/><use href="#s22" y="293.68"/><use href="#s127" y="293.68"/><use href="#s111" y="293.68"/><use href="#s112" y="293.68"/><use href="#s128" y="293.68"/><use href="#s126" y="307.87"/><use href="#s1" y="307.87"/><use href="#s2" y="307.87"/><use href="#s27" y="307.87"/><use href="#s4" y="307.87"/><use href="#s28" y="307.87"/><use href="#s6" y="307.87"/><use href="#s46" y="307.87"/><use href="#s30" y="307.87"/><use href="#s31" y="307.87"/><use href="#s10" y="307.87"/><use href="#s11" y="307.87"/><use href="#s32" y="307.87"/><use href="#s13" y="307.87"/><use href="#s33" y="307.87"/><use href="#s15" y="307.87"/><use href="#s34" y="307.87"/><use href="#s17" y="307.87"/><use href="#s103" y="307.87"/><use href="#s116" y="307.87"/><use href="#s123" y="307.87"/><use href="#s21" y="307.87"/><use href="#s22" y="307.87"/><use href="#s127" y="307.87"/><use href="#s125" y="307.87"/><use href="#s112" y="307.87"/><use href="#s129" y="307.87"/><use href="#s130" y="322.06"/><use href="#s131" y="322.06"/><use href="#s28" y="322.06"/><use href="#s132" y="322.06"/><use href="#s133" y="322.06"/><use href="#s134" y="322.06"/><use href="#s135" y="322.06"/><use href="#s10" y="322.06"/><use href="#s136" y="322.06"/><use href="#s137" y="322.06"/><use href="#s13" y="322.06"/><use href="#s33" y="322.06"/><use href="#s15" y="322.06"/><use href="#s34" y="322.06"/><use href="#s17" y="322.06"/><use href="#s103" y="322.06"/><use href="#s116" y="322.06"/><use href="#s123" y="322.06"/><use href="#s21" y="322.06"/><use href="#s22" y="322.06"/><use href="#s138" y="322.06"/><use href="#s111" y="322.06"/><use href="#s112" y="322.06"/><use href="#s139" y="322.06"/><use href="#s140" y="336.25"/><use href="#s1" y="336.25"/><use href="#s141" y="336.25"/><use href="#s27" y="336.25"/><use href="#s4" y="336.25"/><use href="#s28" y="336.25"/><use href="#s6" y="336.25"/><use href="#s46" y="336.25"/><use href="#s30" y="336.25"/><use href="#s31" y="336.25"/><use href="#s10" y="336.25"/><use href="#s11" y="336.25"/><use href="#s32" y="336.25"/><use href="#s13" y="336.25"/><use href="#s33" y="336.25"/><use href="#s15" y="336.25"/><use href="#s34" y="336.25"/><use href="#s17" y="336.25"/><use href="#s100" y="336.25"/><use href="#s142" y="336.25"/><use href="#s21" y="336.25"/><use href="#s22" y="336.25"/><use href="#s143" y="336.25"/><use href="#s111" y="336.25"/><use href="#s112" y="336.25"/><use href="#s113" y="336.25"/><use href="#s144" y="350.44"/><use href="#s145" y="350.44"/><use href="#s146" y="350.44"/><use href="#s147" y="350.44"/><use href="#s89" y="350.44"/><use href="#s3" y="350.44"/><use href="#s4" y="350.44"/><use href="#s148" y="350.44"/><use href="#s6" y="350.44"/><use href="#s46" y="350.44"/><use href="#s30" y="350.44"/><use href="#s31" y="350.44"/><use href="#s10" y="350.44"/><use href="#s11" y="350.44"/><use href="#s32" y="350.44"/><use href="#s13" y="350.44"/><use href="#s33" y="350.44"/><use href="#s15" y="350.44"/><use href="#s34" y="350.44"/><use href="#s17" y="350.44"/><use href="#s103" y="350.44"/><use href="#s116" y="350.44"/><use href="#s123" y="350.44"/><use href="#s21" y="350.44"/><use href="#s22" y="350.44"/><use href="#s149" y="350.44"/><use href="#s125" y="350.44"/><use href="#s112" y="350.44"/><use href="#s113" y="350.44"/><use href="#s150" y="364.62"/><use href="#s126" y="364.62"/><use href="#s1" y="364.62"/><use href="#s151" y="364.62"/><use href="#s152" y="364.62"/><use href="#s4" y="364.62"/><use href="#s28" y="364.62"/><use href="#s6" y="364.62"/><use href="#s46" y="364.62"/><use href="#s30" y="364.62"/><use href="#s31" y="364.62"/><use href="#s10" y="364.62"/><use href="#s11" y="364.62"/><use href="#s32" y="364.62"/><use href="#s13" y="364.62"/><use href="#s33" y="364.62"/><use href="#s15" y="364.62"/><use href="#s34" y="364.62"/><use href="#s17" y="364.62"/><use href="#s103" y="364.62"/><use href="#s116" y="364.62"/><use href="#s123" y="364.62"/><use href="#s21" y="364.62"/><use href="#s22" y="364.62"/><use href="#s143" y="364.62"/><use href="#s111" y="364.62"/><use href="#s112" y="364.62"/><use href="#s113" y="364.62"/><use href="#s153" y="378.81"/><use href="#s154" y="378.81"/><use href="#s155" y="378.81"/><use href="#s156" y="378.81"/><use href="#s157" y="378.81"/><use href="#s28" y="378.81"/><use href="#s6" y="378.81"/><use href="#s46" y="378.81"/><use href="#s30" y="378.81"/><use href="#s31" y="378.81"/><use href="#s10" y="378.81"/><use href="#s11" y="378.81"/><use href="#s32" y="378.81"/><use href="#s13" y="378.81"/><use href="#s33" y="378.81"/><use href="#s15" y="378.81"/><use href="#s34" y="378.81"/><use href="#s17" y="378.81"/><use href="#s100" y="378.81"/><use href="#s116" y="378.81"/><use href="#s20" y="378.81"/><use href="#s21" y="378.81"/><use href="#s22" y="378.81"/><use href="#s158" y="378.81"/><use href="#s24" y="378.81"/><use href="#s25" y="378.81"/><use href="#s159" y="378.81"/><use href="#s153" y="393"/><use href="#s160" y="393"/><use href="#s161" y="393"/><use href="#s162" y="393"/><use href="#s163" y="393"/><use href="#s28" y="393"/><use href="#s6" y="393"/><use href="#s46" y="393"/><use href="#s30" y="393"/><use href="#s31" y="393"/><use href="#s10" y="393"/><use href="#s11" y="393"/><use href="#s32" y="393"/><use href="#s13" y="393"/><use href="#s33" y="393"/><use href="#s15" y="393"/><use href="#s34" y="393"/><use href="#s17" y="393"/><use href="#s103" y="393"/><use href="#s116" y="393"/><use href="#s20" y="393"/><use href="#s21" y="393"/><use href="#s22" y="393"/><use href="#s164" y="393"/><use href="#s125" y="393"/><use href="#s25" y="393"/><use href="#s165" y="393"/><use href="#s166" y="407.19"/><use href="#s167" y="407.19"/><use href="#s168" y="407.19"/><use href="#s169" y="407.19"/><use href="#s28" y="407.19"/><use href="#s6" y="407.19"/><use href="#s46" y="407.19"/><use href="#s30" y="407.19"/><use href="#s31" y="407.19"/><use href="#s10" y="407.19"/><use href="#s11" y="407.19"/><use href="#s32" y="407.19"/><use href="#s13" y="407.19"/><use href="#s33" y="407.19"/><use href="#s15" y="407.19"/><use href="#s34" y="407.19"/><use href="#s17" y="407.19"/><use href="#s103" y="407.19"/><use href="#s116" y="407.19"/><use href="#s20" y="407.19"/><use href="#s21" y="407.19"/><use href="#s22" y="407.19"/><use href="#s170" y="407.19"/><use href="#s125" y="407.19"/><use href="#s112" y="407.19"/><use href="#s129" y="407.19"/><use href="#s171" y="421.38"/><use href="#s172" y="421.38"/><use href="#s173" y="421.38"/><use href="#s174" y="421.38"/><use href="#s175" y="421.38"/><use href="#s28" y="421.38"/><use href="#s6" y="421.38"/><use href="#s46" y="421.38"/><use href="#s30" y="421.38"/><use href="#s31" y="421.38"/><use href="#s10" y="421.38"/><use href="#s11" y="421.38"/><use href="#s32" y="421.38"/><use href="#s13" y="421.38"/><use href="#s33" y="421.38"/><use href="#s15" y="421.38"/><use href="#s34" y="421.38"/><use href="#s17" y="421.38"/><use href="#s100" y="421.38"/><use href="#s116" y="421.38"/><use href="#s20" y="421.38"/><use href="#s21" y="421.38"/><use href="#s22" y="421.38"/><use href="#s176" y="421.38"/><use href="#s111" y="421.38"/><use href="#s112" y="421.38"/><use href="#s129" y="421.38"/><use href="#s153" y="435.57"/><use href="#s177" y="435.57"/><use href="#s178" y="435.57"/><use href="#s179" y="435.57"/><use href="#s180" y="435.57"/><use href="#s28" y="435.57"/><use href="#s6" y="435.57"/><use href="#s46" y="435.57"/><use href="#s30" y="435.57"/><use href="#s31" y="435.57"/><use href="#s10" y="435.57"/><use href="#s11" y="435.57"/><use href="#s32" y="435.57"/><use href="#s13" y="435.57"/><use href="#s33" y="435.57"/><use href="#s15" y="435.57"/><use href="#s34" y="435.57"/><use href="#s17" y="435.57"/><use href="#s103" y="435.57"/><use href="#s116" y="435.57"/><use href="#s20" y="435.57"/><use href="#s21" y="435.57"/><use href="#s22" y="435.57"/><use href="#s143" y="435.57"/><use href="#s111" y="435.57"/><use href="#s112" y="435.57"/><use href="#s113" y="435.57"/><use href="#s181" y="449.76"/><use href="#s182" y="449.76"/><use href="#s183" y="449.76"/><use href="#s184" y="449.76"/><use href="#s28" y="449.76"/><use href="#s6" y="449.76"/><use href="#s46" y="449.76"/><use href="#s30" y="449.76"/><use href="#s31" y="449.76"/><use href="#s10" y="449.76"/><use href="#s11" y="449.76"/><use href="#s32" y="449.76"/><use href="#s13" y="449.76"/><use href="#s33" y="449.76"/><use href="#s15" y="449.76"/><use href="#s34" y="449.76"/><use href="#s17" y="449.76"/><use href="#s103" y="449.76"/><use href="#s116" y="449.76"/><use href="#s20" y="449.76"/><use href="#s21" y="449.76"/><use href="#s185" y="449.76"/><use href="#s186" y="449.76"/><use href="#s111" y="449.76"/><use href="#s112" y="449.76"/><use href="#s187" y="449.76"/><use href="#s181" y="463.95"/><use href="#s182" y="463.95"/><use href="#s183" y="463.95"/><use href="#s184" y="463.95"/><use href="#s28" y="463.95"/><use href="#s6" y="463.95"/><use href="#s46" y="463.95"/><use href="#s30" y="463.95"/><use href="#s31" y="463.95"/><use href="#s10" y="463.95"/><use href="#s11" y="463.95"/><use href="#s32" y="463.95"/><use href="#s13" y="463.95"/><use href="#s33" y="463.95"/><use href="#s15" y="463.95"/><use href="#s34" y="463.95"/><use href="#s17" y="463.95"/><use href="#s100" y="463.95"/><use href="#s116" y="463.95"/><use href="#s20" y="463.95"/><use href="#s21" y="463.95"/><use href="#s185" y="463.95"/><use href="#s186" y="463.95"/><use href="#s111" y="463.95"/><use href="#s112" y="463.95"/><use href="#s187" y="463.95"/><use href="#s153" y="478.14"/><use href="#s188" y="478.14"/><use href="#s189" y="478.14"/><use href="#s190" y="478.14"/><use href="#s191" y="478.14"/><use href="#s28" y="478.14"/><use href="#s6" y="478.14"/><use href="#s46" y="478.14"/><use href="#s30" y="478.14"/><use href="#s31" y="478.14"/><use href="#s10" y="478.14"/><use href="#s11" y="478.14"/><use href="#s32" y="478.14"/><use href="#s13" y="478.14"/><use href="#s33" y="478.14"/><use href="#s15" y="478.14"/><use href="#s34" y="478.14"/><use href="#s17" y="478.14"/><use href="#s103" y="478.14"/><use href="#s19" y="478.14"/><use href="#s20" y="478.14"/><use href="#s21" y="478.14"/><use href="#s22" y="478.14"/><use href="#s192" y="478.14"/><use href="#s111" y="478.14"/><use href="#s112" y="478.14"/><use href="#s113" y="478.14"/><use href="#s193" y="492.33"/><use href="#s194" y="492.33"/><use href="#s195" y="492.33"/><use href="#s196" y="492.33"/><use href="#s197" y="492.33"/><use href="#s28" y="492.33"/><use href="#s6" y="492.33"/><use href="#s46" y="492.33"/><use href="#s30" y="492.33"/><use href="#s31" y="492.33"/><use href="#s10" y="492.33"/><use href="#s11" y="492.33"/><use href="#s32" y="492.33"/><use href="#s13" y="492.33"/><use href="#s33" y="492.33"/><use href="#s15" y="492.33"/><use href="#s34" y="492.33"/><use href="#s17" y="492.33"/><use href="#s103" y="492.33"/><use href="#s19" y="492.33"/><use href="#s20" y="492.33"/><use href="#s21" y="492.33"/><use href="#s22" y="492.33"/><use href="#s198" y="492.33"/><use href="#s199" y="492.33"/><use href="#s165" y="492.33"/><use href="#s193" y="506.52"/><use href="#s194" y="506.52"/><use href="#s200" y="506.52"/><use href="#s201" y="506.52"/><use href="#s202" y="506.52"/><use href="#s28" y="506.52"/><use href="#s6" y="506.52"/><use href="#s46" y="506.52"/><use href="#s30" y="506.52"/><use href="#s31" y="506.52"/><use href="#s10" y="506.52"/><use href="#s11" y="506.52"/><use href="#s32" y="506.52"/><use href="#s13" y="506.52"/><use href="#s33" y="506.52"/><use href="#s15" y="506.52"/><use href="#s34" y="506.52"/><use href="#s17" y="506.52"/><use href="#s18" y="506.52"/><use href="#s19" y="506.52"/><use href="#s20" y="506.52"/><use href="#s21" y="506.52"/><use href="#s22" y="506.52"/><use href="#s203" y="506.52"/><use href="#s204" y="506.52"/><use href="#s205" y="506.52"/><use href="#s193" y="520.72"/><use href="#s194" y="520.72"/><use href="#s206" y="520.72"/><use href="#s50" y="520.72"/><use href="#s184" y="520.72"/><use href="#s28" y="520.72"/><use href="#s6" y="520.72"/><use href="#s46" y="520.72"/><use href="#s30" y="520.72"/><use href="#s31" y="520.72"/><use href="#s10" y="520.72"/><use href="#s11" y="520.72"/><use href="#s32" y="520.72"/><use href="#s13" y="520.72"/><use href="#s33" y="520.72"/><use href="#s15" y="520.72"/><use href="#s34" y="520.72"/><use href="#s17" y="520.72"/><use href="#s18" y="520.72"/><use href="#s19" y="520.72"/><use href="#s20" y="520.72"/><use href="#s21" y="520.72"/><use href="#s22" y="520.72"/><use href="#s207" y="520.72"/><use href="#s25" y="520.72"/><use href="#s208" y="520.72"/><use href="#s193" y="534.9"/><use href="#s194" y="534.9"/><use href="#s206" y="534.9"/><use href="#s50" y="534.9"/><use href="#s184" y="534.9"/><use href="#s28" y="534.9"/><use href="#s6" y="534.9"/><use href="#s29" y="534.9"/><use href="#s30" y="534.9"/><use href="#s31" y="534.9"/><use href="#s10" y="534.9"/><use href="#s11" y="534.9"/><use href="#s32" y="534.9"/><use href="#s13" y="534.9"/><use href="#s33" y="534.9"/><use href="#s15" y="534.9"/><use href="#s34" y="534.9"/><use href="#s17" y="534.9"/><use href="#s18" y="534.9"/><use href="#s19" y="534.9"/><use href="#s20" y="534.9"/><use href="#s21" y="534.9"/><use href="#s22" y="534.9"/><use href="#s198" y="534.9"/><use href="#s59" y="534.9"/><use href="#s47" y="534.9"/><use href="#s193" y="549.1"/><use href="#s194" y="549.1"/><use href="#s206" y="549.1"/><use href="#s50" y="549.1"/><use href="#s184" y="549.1"/><use href="#s28" y="549.1"/><use href="#s6" y="549.1"/><use href="#s29" y="549.1"/><use href="#s30" y="549.1"/><use href="#s31" y="549.1"/><use href="#s10" y="549.1"/><use href="#s11" y="549.1"/><use href="#s32" y="549.1"/><use href="#s13" y="549.1"/><use href="#s33" y="549.1"/><use href="#s15" y="549.1"/><use href="#s34" y="549.1"/><use href="#s17" y="549.1"/><use href="#s18" y="549.1"/><use href="#s36" y="549.1"/><use href="#s20" y="549.1"/><use href="#s21" y="549.1"/><use href="#s22" y="549.1"/><use href="#s209" y="549.1"/><use href="#s98" y="549.1"/><use href="#s193" y="563.28"/><use href="#s194" y="563.28"/><use href="#s206" y="563.28"/><use href="#s50" y="563.28"/><use href="#s184" y="563.28"/><use href="#s28" y="563.28"/><use href="#s6" y="563.28"/><use href="#s46" y="563.28"/><use href="#s30" y="563.28"/><use href="#s31" y="563.28"/><use href="#s10" y="563.28"/><use href="#s11" y="563.28"/><use href="#s32" y="563.28"/><use href="#s13" y="563.28"/><use href="#s33" y="563.28"/><use href="#s15" y="563.28"/><use href="#s34" y="563.28"/><use href="#s17" y="563.28"/><use href="#s18" y="563.28"/><use href="#s19" y="563.28"/><use href="#s20" y="563.28"/><use href="#s21" y="563.28"/><use href="#s22" y="563.28"/><use href="#s198" y="563.28"/><use href="#s112" y="563.28"/><use href="#s210" y="563.28"/><use href="#s193" y="577.48"/><use href="#s194" y="577.48"/><use href="#s206" y="577.48"/><use href="#s50" y="577.48"/><use href="#s184" y="577.48"/><use href="#s28" y="577.48"/><use href="#s6" y="577.48"/><use href="#s46" y="577.48"/><use href="#s30" y="577.48"/><use href="#s31" y="577.48"/><use href="#s10" y="577.48"/><use href="#s11" y="577.48"/><use href="#s32" y="577.48"/><use href="#s13" y="577.48"/><use href="#s33" y="577.48"/><use href="#s15" y="577.48"/><use href="#s34" y="577.48"/><use href="#s17" y="577.48"/><use href="#s18" y="577.48"/><use href="#s19" y="577.48"/><use href="#s20" y="577.48"/><use href="#s21" y="577.48"/><use href="#s22" y="577.48"/><use href="#s198" y="577.48"/><use href="#s112" y="577.48"/><use href="#s210" y="577.48"/><use href="#s193" y="591.66"/><use href="#s194" y="591.66"/><use href="#s206" y="591.66"/><use href="#s50" y="591.66"/><use href="#s184" y="591.66"/><use href="#s28" y="591.66"/><use href="#s6" y="591.66"/><use href="#s46" y="591.66"/><use href="#s30" y="591.66"/><use href="#s31" y="591.66"/><use href="#s10" y="591.66"/><use href="#s11" y="591.66"/><use href="#s32" y="591.66"/><use href="#s13" y="591.66"/><use href="#s33" y="591.66"/><use href="#s15" y="591.66"/><use href="#s34" y="591.66"/><use href="#s17" y="591.66"/><use href="#s18" y="591.66"/><use href="#s19" y="591.66"/><use href="#s20" y="591.66"/><use href="#s21" y="591.66"/><use href="#s22" y="591.66"/><use href="#s198" y="591.66"/><use href="#s125" y="591.66"/><use href="#s112" y="591.66"/><use href="#s210" y="591.66"/><use href="#s193" y="605.86"/><use href="#s194" y="605.86"/><use href="#s206" y="605.86"/><use href="#s50" y="605.86"/><use href="#s184" y="605.86"/><use href="#s28" y="605.86"/><use href="#s6" y="605.86"/><use href="#s46" y="605.86"/><use href="#s30" y="605.86"/><use href="#s31" y="605.86"/><use href="#s10" y="605.86"/><use href="#s11" y="605.86"/><use href="#s32" y="605.86"/><use href="#s13" y="605.86"/><use href="#s33" y="605.86"/><use href="#s15" y="605.86"/><use href="#s34" y="605.86"/><use href="#s17" y="605.86"/><use href="#s18" y="605.86"/><use href="#s19" y="605.86"/><use href="#s20" y="605.86"/><use href="#s21" y="605.86"/><use href="#s22" y="605.86"/><use href="#s198" y="605.86"/><use href="#s125" y="605.86"/><use href="#s112" y="605.86"/><use href="#s128" y="605.86"/><use href="#s193" y="620.04"/><use href="#s194" y="620.04"/><use href="#s206" y="620.04"/><use href="#s50" y="620.04"/><use href="#s184" y="620.04"/><use href="#s28" y="620.04"/><use href="#s6" y="620.04"/><use href="#s46" y="620.04"/><use href="#s30" y="620.04"/><use href="#s31" y="620.04"/><use href="#s10" y="620.04"/><use href="#s11" y="620.04"/><use href="#s32" y="620.04"/><use href="#s13" y="620.04"/><use href="#s33" y="620.04"/><use href="#s15" y="620.04"/><use href="#s34" y="620.04"/><use href="#s17" y="620.04"/><use href="#s18" y="620.04"/><use href="#s19" y="620.04"/><use href="#s20" y="620.04"/><use href="#s21" y="620.04"/><use href="#s22" y="620.04"/><use href="#s198" y="620.04"/><use href="#s125" y="620.04"/><use href="#s112" y="620.04"/><use href="#s210" y="620.04"/><use href="#s193" y="648.42"/><use href="#s194" y="648.42"/><use href="#s206" y="648.42"/><use href="#s50" y="648.42"/><use href="#s184" y="648.42"/><use href="#s28" y="648.42"/><use href="#s6" y="648.42"/><use href="#s46" y="648.42"/><use href="#s30" y="648.42"/><use href="#s31" y="648.42"/><use href="#s10" y="648.42"/><use href="#s11" y="648.42"/><use href="#s32" y="648.42"/><use href="#s13" y="648.42"/><use href="#s33" y="648.42"/><use href="#s211" y="648.42"/><use href="#s212" y="648.42"/><use href="#s17" y="648.42"/><use href="#s18" y="648.42"/><use href="#s19" y="648.42"/><use href="#s20" y="648.42"/><use href="#s21" y="648.42"/><use href="#s22" y="648.42"/><use href="#s198" y="648.42"/><use href="#s125" y="648.42"/><use href="#s112" y="648.42"/><use href="#s128" y="648.42"/><use href="#s121" y="662.62"/><use href="#s1" y="662.62"/><use href="#s44" y="662.62"/><use href="#s55" y="662.62"/><use href="#s4" y="662.62"/><use href="#s28" y="662.62"/><use href="#s6" y="662.62"/><use href="#s46" y="662.62"/><use href="#s30" y="662.62"/><use href="#s31" y="662.62"/><use href="#s10" y="662.62"/><use href="#s11" y="662.62"/><use href="#s32" y="662.62"/><use href="#s13" y="662.62"/><use href="#s33" y="662.62"/><use href="#s15" y="662.62"/><use href="#s34" y="662.62"/><use href="#s17" y="662.62"/><use href="#s103" y="662.62"/><use href="#s213" y="662.62"/><use href="#s21" y="662.62"/><use href="#s22" y="662.62"/><use href="#s214" y="662.62"/><use href="#s24" y="662.62"/><use href="#s25" y="662.62"/><use href="#s208" y="662.62"/><use href="#s121" y="676.8"/><use href="#s1" y="676.8"/><use href="#s215" y="676.8"/><use href="#s216" y="676.8"/><use href="#s4" y="676.8"/><use href="#s28" y="676.8"/><use href="#s6" y="676.8"/><use href="#s46" y="676.8"/><use href="#s30" y="676.8"/><use href="#s31" y="676.8"/><use href="#s10" y="676.8"/><use href="#s11" y="676.8"/><use href="#s32" y="676.8"/><use href="#s13" y="676.8"/><use href="#s33" y="676.8"/><use href="#s15" y="676.8"/><use href="#s34" y="676.8"/><use href="#s17" y="676.8"/><use href="#s100" y="676.8"/><use href="#s19" y="676.8"/><use href="#s20" y="676.8"/><use href="#s21" y="676.8"/><use href="#s217" y="676.8"/><use href="#s218" y="676.8"/><use href="#s39" y="676.8"/><use href="#s40" y="676.8"/><use href="#s121" y="691"/><use href="#s1" y="691"/><use href="#s44" y="691"/><use href="#s219" y="691"/><use href="#s4" y="691"/><use href="#s28" y="691"/><use href="#s6" y="691"/><use href="#s46" y="691"/><use href="#s30" y="691"/><use href="#s31" y="691"/><use href="#s10" y="691"/><use href="#s11" y="691"/><use href="#s32" y="691"/><use href="#s13" y="691"/><use href="#s33" y="691"/><use href="#s15" y="691"/><use href="#s34" y="691"/><use href="#s17" y="691"/><use href="#s103" y="691"/><use href="#s19" y="691"/><use href="#s20" y="691"/><use href="#s21" y="691"/><use href="#s22" y="691"/><use href="#s220" y="691"/><use href="#s39" y="691"/><use href="#s40" y="691"/><use href="#s0" y="705.18"/><use href="#s1" y="705.18"/><use href="#s2" y="705.18"/><use href="#s221" y="705.18"/><use href="#s4" y="705.18"/><use href="#s28" y="705.18"/><use href="#s6" y="705.18"/><use href="#s46" y="705.18"/><use href="#s30" y="705.18"/><use href="#s31" y="705.18"/><use href="#s10" y="705.18"/><use href="#s11" y="705.18"/><use href="#s32" y="705.18"/><use href="#s13" y="705.18"/><use href="#s33" y="705.18"/><use href="#s15" y="705.18"/><use href="#s34" y="705.18"/><use href="#s17" y="705.18"/><use href="#s103" y="705.18"/><use href="#s19" y="705.18"/><use href="#s20" y="705.18"/><use href="#s21" y="705.18"/><use href="#s22" y="705.18"/><use href="#s23" y="705.18"/><use href="#s24" y="705.18"/><use href="#s25" y="705.18"/><use href="#s26" y="705.18"/><use href="#s0" y="719.38"/><use href="#s1" y="719.38"/><use href="#s2" y="719.38"/><use href="#s27" y="719.38"/><use href="#s4" y="719.38"/><use href="#s28" y="719.38"/><use href="#s6" y="719.38"/><use href="#s46" y="719.38"/><use href="#s30" y="719.38"/><use href="#s31" y="719.38"/><use href="#s10" y="719.38"/><use href="#s11" y="719.38"/><use href="#s32" y="719.38"/><use href="#s13" y="719.38"/><use href="#s33" y="719.38"/><use href="#s15" y="719.38"/><use href="#s34" y="719.38"/><use href="#s17" y="719.38"/><use href="#s100" y="719.38"/><use href="#s19" y="719.38"/><use href="#s20" y="719.38"/><use href="#s21" y="719.38"/><use href="#s22" y="719.38"/><use href="#s23" y="719.38"/><use href="#s24" y="719.38"/><use href="#s112" y="719.38"/><use href="#s210" y="719.38"/><use href="#s0" y="733.56"/><use href="#s1" y="733.56"/><use href="#s2" y="733.56"/><use href="#s27" y="733.56"/><use href="#s4" y="733.56"/><use href="#s28" y="733.56"/><use href="#s6" y="733.56"/><use href="#s46" y="733.56"/><use href="#s30" y="733.56"/><use href="#s31" y="733.56"/><use href="#s10" y="733.56"/><use href="#s11" y="733.56"/><use href="#s32" y="733.56"/><use href="#s13" y="733.56"/><use href="#s33" y="733.56"/><use href="#s222" y="733.56"/><use href="#s223" y="733.56"/><use href="#s17" y="733.56"/><use href="#s103" y="733.56"/><use href="#s19" y="733.56"/><use href="#s20" y="733.56"/><use href="#s21" y="733.56"/><use href="#s22" y="733.56"/><use href="#s23" y="733.56"/><use href="#s24" y="733.56"/><use href="#s112" y="733.56"/><use href="#s210" y="733.56"/><use href="#s0" y="747.75"/><use href="#s1" y="747.75"/><use href="#s2" y="747.75"/><use href="#s27" y="747.75"/><use href="#s4" y="747.75"/><use href="#s28" y="747.75"/><use href="#s6" y="747.75"/><use href="#s46" y="747.75"/><use href="#s30" y="747.75"/><use href="#s31" y="747.75"/><use href="#s10" y="747.75"/><use href="#s11" y="747.75"/><use href="#s32" y="747.75"/><use href="#s13" y="747.75"/><use href="#s33" y="747.75"/><use href="#s15" y="747.75"/><use href="#s34" y="747.75"/><use href="#s17" y="747.75"/><use href="#s103" y="747.75"/><use href="#s19" y="747.75"/><use href="#s20" y="747.75"/><use href="#s21" y="747.75"/><use href="#s22" y="747.75"/><use href="#s23" y="747.75"/><use href="#s24" y="747.75"/><use href="#s112" y="747.75"/><use href="#s210" y="747.75"/><use href="#s0" y="761.94"/><use href="#s1" y="761.94"/><use href="#s2" y="761.94"/><use href="#s224" y="761.94"/><use href="#s4" y="761.94"/><use href="#s28" y="761.94"/><use href="#s6" y="761.94"/><use href="#s46" y="761.94"/><use href="#s30" y="761.94"/><use href="#s31" y="761.94"/><use href="#s10" y="761.94"/><use href="#s11" y="761.94"/><use href="#s32" y="761.94"/><use href="#s13" y="761.94"/><use href="#s33" y="761.94"/><use href="#s15" y="761.94"/><use href="#s34" y="761.94"/><use href="#s17" y="761.94"/><use href="#s100" y="761.94"/><use href="#s19" y="761.94"/><use href="#s20" y="761.94"/><use href="#s21" y="761.94"/><use href="#s22" y="761.94"/><use href="#s225" y="761.94"/><use href="#s111" y="761.94"/><use href="#s226" y="761.94"/><use href="#s227" y="761.94"/><use href="#s0" y="776.13"/><use href="#s1" y="776.13"/><use href="#s2" y="776.13"/><use href="#s224" y="776.13"/><use href="#s4" y="776.13"/><use href="#s28" y="776.13"/><use href="#s6" y="776.13"/><use href="#s46" y="776.13"/><use href="#s30" y="776.13"/><use href="#s31" y="776.13"/><use href="#s10" y="776.13"/><use href="#s11" y="776.13"/><use href="#s32" y="776.13"/><use href="#s13" y="776.13"/><use href="#s33" y="776.13"/><use href="#s15" y="776.13"/><use href="#s34" y="776.13"/><use href="#s17" y="776.13"/><use href="#s103" y="776.13"/><use href="#s19" y="776.13"/><use href="#s20" y="776.13"/><use href="#s21" y="776.13"/><use href="#s22" y="776.13"/><use href="#s23" y="776.13"/><use href="#s24" y="776.13"/><use href="#s112" y="776.13"/><use href="#s227" y="776.13"/><use href="#s228" y="790.32"/><use href="#s229" y="790.32"/><use href="#s230" y="790.32"/><use href="#s46" y="790.32"/><use href="#s30" y="790.32"/><use href="#s31" y="790.32"/><use href="#s10" y="790.32"/><use href="#s11" y="790.32"/><use href="#s32" y="790.32"/><use href="#s13" y="790.32"/><use href="#s33" y="790.32"/><use href="#s15" y="790.32"/><use href="#s34" y="790.32"/><use href="#s17" y="790.32"/><use href="#s103" y="790.32"/><use href="#s19" y="790.32"/><use href="#s20" y="790.32"/><use href="#s21" y="790.32"/><use href="#s22" y="790.32"/><use href="#s231" y="790.32"/><use href="#s24" y="790.32"/><use href="#s112" y="790.32"/><use href="#s210" y="790.32"/><use href="#s0" y="804.51"/><use href="#s1" y="804.51"/><use href="#s2" y="804.51"/><use href="#s27" y="804.51"/><use href="#s4" y="804.51"/><use href="#s232" y="804.51"/><use href="#s46" y="804.51"/><use href="#s30" y="804.51"/><use href="#s31" y="804.51"/><use href="#s10" y="804.51"/><use href="#s11" y="804.51"/><use href="#s32" y="804.51"/><use href="#s13" y="804.51"/><use href="#s33" y="804.51"/><use href="#s15" y="804.51"/><use href="#s34" y="804.51"/><use href="#s17" y="804.51"/><use href="#s100" y="804.51"/><use href="#s19" y="804.51"/><use href="#s20" y="804.51"/><use href="#s21" y="804.51"/><use href="#s22" y="804.51"/><use href="#s233" y="804.51"/><use href="#s234" y="804.51"/><use href="#s0" y="818.7"/><use href="#s1" y="818.7"/><use href="#s2" y="818.7"/><use href="#s27" y="818.7"/><use href="#s4" y="818.7"/><use href="#s28" y="818.7"/><use href="#s6" y="818.7"/><use href="#s46" y="818.7"/><use href="#s30" y="818.7"/><use href="#s31" y="818.7"/><use href="#s10" y="818.7"/><use href="#s11" y="818.7"/><use href="#s32" y="818.7"/><use href="#s13" y="818.7"/><use href="#s33" y="818.7"/><use href="#s15" y="818.7"/><use href="#s34" y="818.7"/><use href="#s17" y="818.7"/><use href="#s103" y="818.7"/><use href="#s19" y="818.7"/><use href="#s20" y="818.7"/><use href="#s21" y="818.7"/><use href="#s22" y="818.7"/><use href="#s23" y="818.7"/><use href="#s125" y="818.7"/><use href="#s112" y="818.7"/><use href="#s234" y="818.7"/><use href="#s0" y="832.89"/><use href="#s1" y="832.89"/><use href="#s2" y="832.89"/><use href="#s3" y="832.89"/><use href="#s4" y="832.89"/><use href="#s28" y="832.89"/><use href="#s6" y="832.89"/><use href="#s46" y="832.89"/><use href="#s30" y="832.89"/><use href="#s31" y="832.89"/><use href="#s10" y="832.89"/><use href="#s11" y="832.89"/><use href="#s32" y="832.89"/><use href="#s13" y="832.89"/><use href="#s33" y="832.89"/><use href="#s15" y="832.89"/><use href="#s34" y="832.89"/><use href="#s17" y="832.89"/><use href="#s235" y="832.89"/><use href="#s236" y="832.89"/><use href="#s20" y="832.89"/><use href="#s21" y="832.89"/><use href="#s22" y="832.89"/><use href="#s237" y="832.89"/><use href="#s59" y="832.89"/><use href="#s238" y="832.89"/><use href="#s0" y="847.08"/><use href="#s1" y="847.08"/><use href="#s2" y="847.08"/><use href="#s3" y="847.08"/><use href="#s4" y="847.08"/><use href="#s28" y="847.08"/><use href="#s6" y="847.08"/><use href="#s46" y="847.08"/><use href="#s30" y="847.08"/><use href="#s31" y="847.08"/><use href="#s10" y="847.08"/><use href="#s11" y="847.08"/><use href="#s32" y="847.08"/><use href="#s13" y="847.08"/><use href="#s33" y="847.08"/><use href="#s15" y="847.08"/><use href="#s34" y="847.08"/><use href="#s17" y="847.08"/><use href="#s239" y="847.08"/><use href="#s19" y="847.08"/><use href="#s20" y="847.08"/><use href="#s21" y="847.08"/><use href="#s22" y="847.08"/><use href="#s23" y="847.08"/><use href="#s47" y="847.08"/><use href="#s0" y="861.27"/><use href="#s1" y="861.27"/><use href="#s2" y="861.27"/><use href="#s240" y="861.27"/><use href="#s4" y="861.27"/><use href="#s28" y="861.27"/><use href="#s6" y="861.27"/><use href="#s46" y="861.27"/><use href="#s30" y="861.27"/><use href="#s31" y="861.27"/><use href="#s10" y="861.27"/><use href="#s11" y="861.27"/><use href="#s32" y="861.27"/><use href="#s13" y="861.27"/><use href="#s33" y="861.27"/><use href="#s15" y="861.27"/><use href="#s34" y="861.27"/><use href="#s17" y="861.27"/><use href="#s18" y="861.27"/><use href="#s19" y="861.27"/><use href="#s20" y="861.27"/><use href="#s21" y="861.27"/><use href="#s22" y="861.27"/><use href="#s241" y="861.27"/><use href="#s98" y="861.27"/><use href="#s242" y="861.27"/><use href="#s243" y="861.27"/></g>
<path class="t" d="M-0.6 475.52H1.7M2.8 91.15V859.9M2.2 91.75H4.7M5.8 7.3V176.19M5.2 7.9H14.2M5.2 175.59H8.4M9.5 44.55V306.63M8.9 45.15H18.6M19.7 28.59V61.71M19.1 29.19H22.3M23.4 21.49V36.88M22.8 22.09H28.3M22.8 36.28H29.7M19.1 61.11H23.9M25 49.87V72.35M24.4 50.47H27.7M24.4 71.75H27M28.1 64.06V79.45M27.5 64.66H29.7M27.5 78.85H29.4M8.9 306.03H11.3M12.4 106.19V505.88M11.8 106.79H14.6M15.7 92.44V121.13M15.1 93.04H30.9M15.1 120.53H19.6M20.7 106.63V134.44M20.1 107.23H53.4M20.1 133.84H32.1M33.2 120.82V146.85M32.6 121.42H37.1M32.6 146.25H35.9M37 135.01V157.5M36.4 135.61H51.9M36.4 156.9H45.8M46.9 149.2V164.59M46.3 149.8H66.2M46.3 163.99H69.3M11.8 505.28H15M16.1 292.34V718.22M15.5 292.94H22.9M24 208.62V377.27M23.4 209.22H26.8M27.9 184.68V233.77M27.3 185.28H40.2M41.3 177.58V192.97M40.7 178.18H162.6M40.7 192.37H89.2M27.3 233.17H39.6M40.7 216.6V249.73M40.1 217.2H42.9M44 205.96V228.44M43.4 206.56H49.5M43.4 227.84H47.2M48.3 220.15V235.54M47.7 220.75H56.3M47.7 234.94H54M40.1 249.13H44.6M23.4 376.67H26.2M27.3 294.65V458.69M26.7 295.25H30.7M31.8 269.81V320.68M31.2 270.41H35.3M36.4 262.72V278.11M35.8 263.32H55.7M35.8 277.51H54M31.2 320.08H35.2M36.3 298.19V341.96M35.7 298.79H44.4M45.5 291.1V306.49M44.9 291.7H60.5M44.9 305.89H54.8M35.7 341.36H39.6M40.7 326.57V356.15M40.1 327.17H42.5M43.6 319.48V334.87M43 320.08H143.6M43 334.27H66.2M40.1 355.55H48.1M49.2 347.86V363.25M48.6 348.46H99M48.6 362.65H77.2M26.7 458.09H41.9M43 420.58V495.59M42.4 421.18H47.8M48.9 397.52V444.84M48.3 398.12H51M52.1 383.33V412.91M51.5 383.93H57.5M58.6 376.24V391.63M58 376.84H102.7M58 391.03H93.6M51.5 412.31H64.1M65.2 404.62V420.01M64.6 405.22H85.9M64.6 419.41H87.8M48.3 444.24H58.7M59.8 433V455.49M59.2 433.6H77.9M59.2 454.88H81.3M82.4 447.19V462.58M81.8 447.79H83.7M81.8 461.98H83.7M42.4 494.99H50.5M51.6 475.57V514.41M51 476.17H78.6M51 513.81H59.7M60.8 489.76V537.85M60.2 490.36H78.3M60.2 537.25H62.6M63.7 511.04V563.46M63.1 511.64H65.8M66.9 503.95V519.34M66.3 504.55H87.8M66.3 518.74H83.7M63.1 562.86H66.5M67.6 539.42V586.3M67 540.02H72.5M73.6 532.33V547.72M73 532.93H89.6M73 547.12H86.9M67 585.7H72.4M73.5 567.8V603.59M72.9 568.4H77.6M78.7 560.71V576.1M78.1 561.31H85.2M78.1 575.5H83.7M72.9 602.99H77.2M78.3 589.09V616.9M77.7 589.69H85.9M77.7 616.3H81.8M82.9 603.28V629.31M82.3 603.88H87.8M82.3 628.71H85.2M86.3 617.47V639.96M85.7 618.07H89.6M85.7 639.36H105.1M106.2 631.66V647.05M105.6 632.26H107.8M105.6 646.45H108.1M15.5 717.62H18.2M19.3 670.68V764.56M18.7 671.28H22.6M23.7 660.04V682.52M23.1 660.64H44.9M23.1 681.92H28.7M29.8 674.23V689.62M29.2 674.83H44.1M29.2 689.02H43.7M18.7 763.96H21.8M22.9 721.23V806.69M22.3 721.83H25.5M26.6 702.61V741.06M26 703.21H33.9M26 740.46H28.8M29.9 723.89V757.02M29.3 724.49H34.2M35.3 716.8V732.19M34.7 717.4H36.8M34.7 731.59H53.4M29.3 756.42H32.3M33.4 745.18V767.66M32.8 745.78H36.4M32.8 767.06H38.2M39.3 759.37V774.76M38.7 759.97H46.6M38.7 774.16H42.2M22.3 806.09H25.9M27 794.84V817.33M26.4 795.44H36M37.1 787.75V803.14M36.5 788.35H64.1M36.5 802.54H56.8M26.4 816.73H34.7M2.2 838.01H5.8M6.9 830.32V845.71M6.3 830.92H18.5M6.3 845.11H17.2M2.2 859.3H18.6"/>
<g class="d"><circle cx="1.7" cy="475.52" r="1.55"/><circle cx="4.7" cy="91.75" r="1.55"/><circle cx="14.2" cy="7.9" r="1.55"/><circle cx="8.4" cy="175.59" r="1.55"/><circle cx="18.6" cy="45.15" r="1.55"/><circle cx="22.3" cy="29.19" r="1.55"/><circle cx="28.3" cy="22.09" r="1.55"/><circle cx="29.7" cy="36.28" r="1.55"/><circle cx="23.9" cy="61.11" r="1.55"/><circle cx="27.7" cy="50.47" r="1.55"/><circle cx="27" cy="71.75" r="1.55"/><circle cx="29.7" cy="64.66" r="1.55"/><circle cx="29.4" cy="78.85" r="1.55"/><circle cx="11.3" cy="306.03" r="1.55"/><circle cx="14.6" cy="106.79" r="1.55"/><circle cx="30.9" cy="93.04" r="1.55"/><circle cx="19.6" cy="120.53" r="1.55"/><circle cx="53.4" cy="107.23" r="1.55"/><circle cx="32.1" cy="133.84" r="1.55"/><circle cx="37.1" cy="121.42" r="1.55"/><circle cx="35.9" cy="146.25" r="1.55"/><circle cx="51.9" cy="135.61" r="1.55"/><circle cx="45.8" cy="156.9" r="1.55"/><circle cx="66.2" cy="149.8" r="1.55"/><circle cx="69.3" cy="163.99" r="1.55"/><circle cx="15" cy="505.28" r="1.55"/><circle cx="22.9" cy="292.94" r="1.55"/><circle cx="26.8" cy="209.22" r="1.55"/><circle cx="40.2" cy="185.28" r="1.55"/><circle cx="162.6" cy="178.18" r="1.55"/><circle cx="89.2" cy="192.37" r="1.55"/><circle cx="39.6" cy="233.17" r="1.55"/><circle cx="42.9" cy="217.2" r="1.55"/><circle cx="49.5" cy="206.56" r="1.55"/><circle cx="47.2" cy="227.84" r="1.55"/><circle cx="56.3" cy="220.75" r="1.55"/><circle cx="54" cy="234.94" r="1.55"/><circle cx="44.6" cy="249.13" r="1.55"/><circle cx="26.2" cy="376.67" r="1.55"/><circle cx="30.7" cy="295.25" r="1.55"/><circle cx="35.3" cy="270.41" r="1.55"/><circle cx="55.7" cy="263.32" r="1.55"/><circle cx="54" cy="277.51" r="1.55"/><circle cx="35.2" cy="320.08" r="1.55"/><circle cx="44.4" cy="298.79" r="1.55"/><circle cx="60.5" cy="291.7" r="1.55"/><circle cx="54.8" cy="305.89" r="1.55"/><circle cx="39.6" cy="341.36" r="1.55"/><circle cx="42.5" cy="327.17" r="1.55"/><circle cx="143.6" cy="320.08" r="1.55"/><circle cx="66.2" cy="334.27" r="1.55"/><circle cx="48.1" cy="355.55" r="1.55"/><circle cx="99" cy="348.46" r="1.55"/><circle cx="77.2" cy="362.65" r="1.55"/><circle cx="41.9" cy="458.09" r="1.55"/><circle cx="47.8" cy="421.18" r="1.55"/><circle cx="51" cy="398.12" r="1.55"/><circle cx="57.5" cy="383.93" r="1.55"/><circle cx="102.7" cy="376.84" r="1.55"/><circle cx="93.6" cy="391.03" r="1.55"/><circle cx="64.1" cy="412.31" r="1.55"/><circle cx="85.9" cy="405.22" r="1.55"/><circle cx="87.8" cy="419.41" r="1.55"/><circle cx="58.7" cy="444.24" r="1.55"/><circle cx="77.9" cy="433.6" r="1.55"/><circle cx="81.3" cy="454.88" r="1.55"/><circle cx="83.7" cy="447.79" r="1.55"/><circle cx="83.7" cy="461.98" r="1.55"/><circle cx="50.5" cy="494.99" r="1.55"/><circle cx="78.6" cy="476.17" r="1.55"/><circle cx="59.7" cy="513.81" r="1.55"/><circle cx="78.3" cy="490.36" r="1.55"/><circle cx="62.6" cy="537.25" r="1.55"/><circle cx="65.8" cy="511.64" r="1.55"/><circle cx="87.8" cy="504.55" r="1.55"/><circle cx="83.7" cy="518.74" r="1.55"/><circle cx="66.5" cy="562.86" r="1.55"/><circle cx="72.5" cy="540.02" r="1.55"/><circle cx="89.6" cy="532.93" r="1.55"/><circle cx="86.9" cy="547.12" r="1.55"/><circle cx="72.4" cy="585.7" r="1.55"/><circle cx="77.6" cy="568.4" r="1.55"/><circle cx="85.2" cy="561.31" r="1.55"/><circle cx="83.7" cy="575.5" r="1.55"/><circle cx="77.2" cy="602.99" r="1.55"/><circle cx="85.9" cy="589.69" r="1.55"/><circle cx="81.8" cy="616.3" r="1.55"/><circle cx="87.8" cy="603.88" r="1.55"/><circle cx="85.2" cy="628.71" r="1.55"/><circle cx="89.6" cy="618.07" r="1.55"/><circle cx="105.1" cy="639.36" r="1.55"/><circle cx="107.8" cy="632.26" r="1.55"/><circle cx="108.1" cy="646.45" r="1.55"/><circle cx="18.2" cy="717.62" r="1.55"/><circle cx="22.6" cy="671.28" r="1.55"/><circle cx="44.9" cy="660.64" r="1.55"/><circle cx="28.7" cy="681.92" r="1.55"/><circle cx="44.1" cy="674.83" r="1.55"/><circle cx="43.7" cy="689.02" r="1.55"/><circle cx="21.8" cy="763.96" r="1.55"/><circle cx="25.5" cy="721.83" r="1.55"/><circle cx="33.9" cy="703.21" r="1.55"/><circle cx="28.8" cy="740.46" r="1.55"/><circle cx="34.2" cy="724.49" r="1.55"/><circle cx="36.8" cy="717.4" r="1.55"/><circle cx="53.4" cy="731.59" r="1.55"/><circle cx="32.3" cy="756.42" r="1.55"/><circle cx="36.4" cy="745.78" r="1.55"/><circle cx="38.2" cy="767.06" r="1.55"/><circle cx="46.6" cy="759.97" r="1.55"/><circle cx="42.2" cy="774.16" r="1.55"/><circle cx="25.9" cy="806.09" r="1.55"/><circle cx="36" cy="795.44" r="1.55"/><circle cx="64.1" cy="788.35" r="1.55"/><circle cx="56.8" cy="802.54" r="1.55"/><circle cx="34.7" cy="816.73" r="1.55"/><circle cx="5.8" cy="838.01" r="1.55"/><circle cx="18.5" cy="830.92" r="1.55"/><circle cx="17.2" cy="845.11" r="1.55"/><circle cx="18.6" cy="859.3" r="1.55"/></g>
<text x="15.2" y="11.25" font-size="10.22">Pike-perch_FDFT1-201_VTTG01000004.1:9334112-9341756</text>
<text x="29.3" y="25.44" font-size="10.22">Sheepshead_minnow_FDFT1-201_KL652504.1:2345442-2354770</text>
<text x="30.7" y="39.63" font-size="10.22">Platyfish_FDFT1-201_15:11862216-11869917</text>
<text x="28.7" y="53.82" font-size="10.22">Guppy_FDFT1-201_LG21:7079157-7088990</text>
<text x="30.7" y="68.01" font-size="10.22">Amazon_molly_FDFT1-201_KI519663.1:874816-881005</text>
<text x="30.4" y="82.2" font-size="10.22">Sailfin_molly_FDFT1-201_KQ546216.1:178841-185044</text>
<text x="31.9" y="96.39" font-size="10.22">Tetraodon_FDFT1-201_14:5309247-5313108</text>
<text x="54.4" y="110.58" font-size="10.22">Mangrove_rivulus_FDFT1-201_LWHD01000071.1:2211847-2217742</text>
<text x="38.1" y="124.77" font-size="10.22">Javanese_ricefish_FDFT1-201_24:21979047-21984492</text>
<text x="52.9" y="138.96" font-size="10.22">Indian_medaka_FDFT1-202_NVQA01000023.1:7596153-7602575</text>
<text x="67.2" y="153.15" font-size="10.22">Japanese_medaka_HdrR_FDFT1-201_24:16913684-16920882</text>
<text x="70.3" y="167.34" font-size="10.22">Chinese_medaka_FDFT1-201_VHIC01000435.1:139538-146610</text>
<text x="163.6" y="181.53" font-size="10.22">Atlantic_herring_FDFT1-201_15:28035445-28049995</text>
<text x="90.2" y="195.72" font-size="10.22">Northern_pike_FDFT1-201_LG18:27562490-27645596</text>
<text x="50.5" y="209.91" font-size="10.22">Brown_trout_FDFT1-201_1:23180344-23192916</text>
<text x="57.3" y="224.1" font-size="10.22">Chinook_salmon_FDFT1-202_18:20745605-20758708</text>
<text x="55" y="238.29" font-size="10.22">Coho_salmon_FDFT1-201_LG21:22924341-22937244</text>
<text x="45.6" y="252.48" font-size="10.22">Huchen_FDFT1-201_QNTS01003059.1:87646-102172</text>
<text x="56.7" y="266.67" font-size="10.22">Spotted_gar_FDFT1-201_JH591413.1:268605-283567</text>
<text x="55" y="280.86" font-size="10.22">Asian_bonytongue_FDFT1-201_1:33630620-33638578</text>
<text x="61.5" y="295.05" font-size="10.22">Channel_catfish_FDFT1-201_2:31110819-31129107</text>
<text x="55.8" y="309.24" font-size="10.22">Red-bellied_piranha_FDFT1-202_KV575825.1:150847-168252</text>
<text x="144.6" y="323.43" font-size="10.22">Golden-line_barbel_FDFT1-202_LCYQ01S001777.1:131482-145428</text>
<text x="67.2" y="337.62" font-size="10.22">Zebrafish_FDFT1-202_20:52907397-52939501</text>
<text x="100" y="351.81" font-size="10.22">Denticle_herring_FDFT1-201_14:11621379-11627999</text>
<text x="78.2" y="366" font-size="10.22">Golden-line_barbel_FDFT1-201_LCYQ01S000587.1:946983-963890</text>
<text x="103.7" y="380.19" font-size="10.22">Reedfish_FDFT1-202_3:94903022-94936752</text>
<text x="94.6" y="394.38" font-size="10.22">Paramormyrops_kingsleyae_FDFT1-203_PGUA01000084.1:1158971-1167566</text>
<text x="86.9" y="408.57" font-size="10.22">Mexican_tetra_FDFT1-202_APWO02000097.1:91133-107605</text>
<text x="88.8" y="422.76" font-size="10.22">Electric_eel_FDFT1-202_RBHW02000005.1:1854222-1862388</text>
<text x="78.9" y="436.95" font-size="10.22">Goldfish_FDFT1-205_LG45M:1232500-1243526</text>
<text x="84.7" y="451.14" font-size="10.22">Goldfish_FDFT1-205_20:3060507-3073176</text>
<text x="84.7" y="465.33" font-size="10.22">Goldfish_FDFT1-203_QPKE01000902.1:86312-95582</text>
<text x="79.6" y="479.52" font-size="10.22">Atlantic_salmon_FDFT1-204_6:68399812-68413008</text>
<text x="79.3" y="493.71" font-size="10.22">Pinecone_soldierfish_FDFT1-202_24:30395642-30409632</text>
<text x="88.8" y="507.9" font-size="10.22">Siamese_fighting_fish_FDFT1-202_24:8643827-8648181</text>
<text x="84.7" y="522.09" font-size="10.22">Fugu_FDFT1-201_16:8559744-8563435</text>
<text x="90.6" y="536.28" font-size="10.22">Turquoise_killifish_FDFT1-203_sgr04:48861779-48868292</text>
<text x="87.9" y="550.47" font-size="10.22">Mummichog_FDFT1-202_KN811339.1:727011-738611</text>
<text x="86.2" y="564.66" font-size="10.22">Large_yellow_croaker_FDFT1-202_XI:10887046-10894561</text>
<text x="84.7" y="578.85" font-size="10.22">Barramundi_perch_FDFT1-204_CYIF01000163.1:458395-465291</text>
<text x="86.9" y="593.04" font-size="10.22">Midas_cichlid_FDFT1-202_CCOE01000334.1:1272642-1280550</text>
<text x="88.8" y="607.23" font-size="10.22">Eastern_happy_FDFT1-202_15:8230587-8238429</text>
<text x="90.6" y="621.42" font-size="10.22">Nile_tilapia_FDFT1-204_LG15:9642817-9651144</text>
<text x="108.8" y="635.61" font-size="10.22">Burton\'s_mouthbrooder_FDFT1-203_JH425328.1:3055077-3062950</text>
<text x="109.1" y="649.8" font-size="10.22">Makobe_Island_cichlid_FDFT1-202_JH419263.1:1215154-1222405</text>
<text x="45.9" y="663.99" font-size="10.22">Tiger_tail_seahorse_FDFT1-201_KV879959.1:1260804-1267538</text>
<text x="45.1" y="678.18" font-size="10.22">Tongue_sole_FDFT1-201_7:4781999-4787444</text>
<text x="44.7" y="692.37" font-size="10.22">Channel_bull_blenny_FDFT1-201_24:9415558-9424169</text>
<text x="34.9" y="706.56" font-size="10.22">Ballan_wrasse_FDFT1-201_FKLU01000282.1:204574-212873</text>
<text x="37.8" y="720.75" font-size="10.22">Greater_amberjack_FDFT1-201_BDQW01000025.1:12535306-12544312</text>
<text x="54.4" y="734.94" font-size="10.22">Yellowtail_amberjack_FDFT1-201_PEQF01098618.1:384693-396303</text>
<text x="37.4" y="749.13" font-size="10.22">Spiny_chromis_FDFT1-201_MVNR01000211.1:66157-80164</text>
<text x="47.6" y="763.32" font-size="10.22">Clown_anemonefish_FDFT1-201_NXFZ01002402.1:582204-598068</text>
<text x="43.2" y="777.51" font-size="10.22">Orange_clownfish_FDFT1-201_11:33739922-33756374</text>
<text x="65.1" y="791.7" font-size="10.22">Bicolor_damselfish_FDFT1-202_KK580870.1:251669-259591</text>
<text x="57.8" y="805.89" font-size="10.22">Lyretail_cichlid_FDFT1-201_JH422321.1:1566084-1584889</text>
<text x="35.7" y="820.08" font-size="10.22">Zebra_mbuna_FDFT1-201_LG15:9294271-9302756</text>
<text x="19.5" y="834.27" font-size="10.22">Stickleback_FDFT1-201_groupXVIII:10166988-10171863</text>
<text x="18.2" y="848.46" font-size="10.22">Lumpfish_FDFT1-201_24:8078908-8086227</text>
<text x="19.6" y="862.65" font-size="10.22">Gilthead_seabream_FDFT1-202_22:20441370-20450684</text>
<path class="fg" d="M18.5 13.5h19.91M32.6 27.69h18.36M34 41.88h22.86M32 56.07h17.65M34 70.26h21.82M33.7 84.45h20.29M35.2 98.64h17.52M57.7 112.83h21.57M41.4 127.02h17.34M56.2 141.21h20.9M70.5 155.4h17.63M73.6 169.59h17.82M166.9 183.78h20.82M93.5 197.97h24.44M53.8 212.16h18.11M60.6 226.35h19.01M58.3 240.54h22.65M48.9 254.73h25.53M60 268.92h22.19M58.3 283.11h20.57M64.8 297.3h25.79M59.1 311.49h17.42M147.9 325.68h24.73M70.5 339.87h19.61M103.3 354.06h18.3M81.5 368.25h18.06M107 382.44h19.78M97.9 396.63h24.35M90.2 410.82h18.63M92.1 425.01h22.23M82.2 439.2h22.75M88 453.39h20.35M88 467.58h21.93M82.9 481.77h17.57M82.6 495.96h17.54M92.1 510.15h18.85M88 524.34h23.12M93.9 538.53h20.85M91.2 552.72h19.83M89.5 566.91h22.27M88 581.1h21.08M90.2 595.29h19.7M92.1 609.48h24.15M93.9 623.67h23.29M112.1 637.86h19.2M112.4 652.05h22.17M49.2 666.24h21.73M48.4 680.43h24.88M48 694.62h23.57M38.2 708.81h19.59M41.1 723h25.82M57.7 737.19h18.06M40.7 751.38h20.76M50.9 765.57h23.81M46.5 779.76h18.37M68.4 793.95h21.4M61.1 808.14h17.35M39 822.33h23.01M22.8 836.52h23.88M21.5 850.71h22.16M22.9 864.9h24.88"/>
<path class="t" d="M0 870.5H40.6M0.7 866.6V874.6M40 866.6V874.6" style="stroke-width:1.2"/>
<text x="1.1" y="885" font-size="9.55">0.05065</text>
</svg></body></html>
